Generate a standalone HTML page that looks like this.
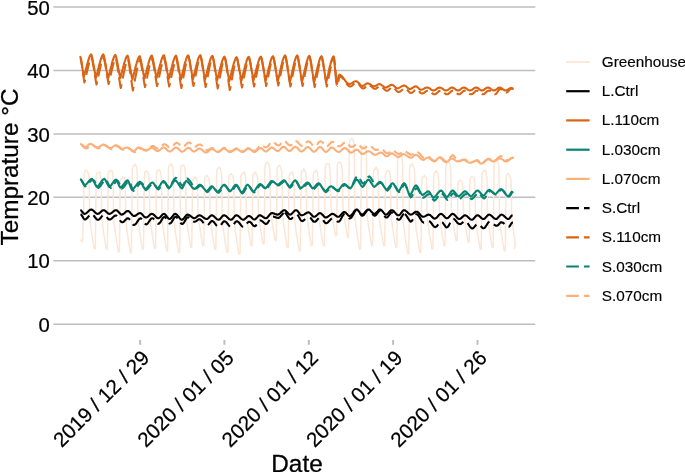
<!DOCTYPE html>
<html><head><meta charset="utf-8"><title>Temperature chart</title>
<style>html,body{margin:0;padding:0;background:#fff}body{width:685px;height:472px;overflow:hidden}</style></head>
<body>
<svg width="685" height="472" viewBox="0 0 685 472" style="display:block">
<rect width="685" height="472" fill="#fff"/>
<g stroke="#BEBEBE" stroke-width="1.5" fill="none">
<line x1="53.4" x2="535.3" y1="324.15" y2="324.15"/>
<line x1="53.4" x2="535.3" y1="260.73" y2="260.73"/>
<line x1="53.4" x2="535.3" y1="197.31" y2="197.31"/>
<line x1="53.4" x2="535.3" y1="133.89" y2="133.89"/>
<line x1="53.4" x2="535.3" y1="70.47" y2="70.47"/>
<line x1="53.4" x2="535.3" y1="7.05" y2="7.05"/>
</g>
<g stroke="#BEBEBE" stroke-width="2">
<line x1="140.1" x2="140.1" y1="340.0" y2="344.8"/>
<line x1="224.4" x2="224.4" y1="340.0" y2="344.8"/>
<line x1="308.8" x2="308.8" y1="340.0" y2="344.8"/>
<line x1="393.1" x2="393.1" y1="340.0" y2="344.8"/>
<line x1="477.5" x2="477.5" y1="340.0" y2="344.8"/>
</g>
<g fill="none" stroke-linejoin="round" stroke-linecap="butt">
<path d="M80.2,239.5 L81.2,240.8 L82.6,242.3 L83.7,210.3 L84.0,174.8 L84.7,171.2 L85.7,170.5 L86.7,170.3 L87.7,172.3 L88.5,172.5 L89.0,179.3 L89.6,217.0 L90.8,227.0 L92.1,236.0 L93.3,243.5 L94.4,249.0 L95.3,248.5 L95.8,212.0 L96.1,177.1 L96.8,173.3 L97.8,172.8 L98.8,172.0 L99.8,172.2 L100.6,175.5 L101.1,181.0 L101.7,217.5 L102.9,227.5 L104.2,236.5 L105.4,244.0 L106.4,249.5 L107.3,249.0 L107.8,210.3 L108.1,173.9 L108.8,171.7 L109.8,171.3 L110.8,170.3 L111.8,170.5 L112.6,172.6 L113.1,179.3 L113.7,220.0 L114.9,230.0 L116.2,239.0 L117.4,246.5 L118.5,252.0 L119.4,251.5 L119.9,217.0 L120.2,181.8 L120.9,179.1 L121.9,179.2 L122.9,177.0 L123.9,177.4 L124.7,179.7 L125.2,186.0 L125.8,221.0 L127.0,231.0 L128.3,240.0 L129.5,247.5 L130.5,253.0 L131.4,252.5 L131.9,203.8 L132.2,169.2 L132.9,166.1 L133.9,166.3 L134.9,163.8 L135.9,165.5 L136.7,167.0 L137.2,172.8 L137.8,217.2 L139.0,227.2 L140.3,236.2 L141.5,243.7 L142.6,249.2 L143.5,248.7 L144.0,211.2 L144.3,177.6 L145.0,171.9 L146.0,171.0 L147.0,171.2 L148.0,173.8 L148.8,174.1 L149.3,180.2 L149.9,216.3 L151.1,226.3 L152.4,235.3 L153.6,242.8 L154.7,248.3 L155.6,247.8 L156.1,209.8 L156.4,173.7 L157.1,170.6 L158.1,169.9 L159.1,169.8 L160.1,170.7 L160.9,174.2 L161.4,178.8 L162.0,219.0 L163.2,229.0 L164.5,238.0 L165.7,245.5 L166.7,251.0 L167.6,250.5 L168.1,203.6 L168.4,167.6 L169.1,165.2 L170.1,165.0 L171.1,163.6 L172.1,165.5 L172.9,166.7 L173.4,172.6 L174.0,220.6 L175.2,230.6 L176.5,239.6 L177.7,247.1 L178.8,252.6 L179.7,252.1 L180.2,205.3 L180.5,170.4 L181.2,166.0 L182.2,165.2 L183.2,165.3 L184.2,165.5 L185.0,167.9 L185.5,174.3 L186.1,215.5 L187.3,225.5 L188.6,234.5 L189.8,242.0 L190.8,247.5 L191.7,247.0 L192.2,217.0 L192.5,182.5 L193.2,178.4 L194.2,178.0 L195.2,177.0 L196.2,177.9 L197.0,180.8 L197.5,186.0 L198.1,213.9 L199.3,223.9 L200.6,232.9 L201.8,240.4 L202.9,245.9 L203.8,245.4 L204.3,215.3 L204.6,180.2 L205.3,176.4 L206.3,175.9 L207.3,175.3 L208.3,177.7 L209.1,179.4 L209.6,184.3 L210.2,217.2 L211.4,227.2 L212.7,236.2 L213.9,243.7 L215.0,249.2 L215.9,248.7 L216.4,207.0 L216.7,171.2 L217.4,168.6 L218.4,168.4 L219.4,167.0 L220.4,168.6 L221.2,171.6 L221.7,176.0 L222.3,220.6 L223.5,230.6 L224.8,239.6 L226.0,247.1 L227.0,252.6 L227.9,252.1 L228.4,213.7 L228.7,179.4 L229.4,174.8 L230.4,174.3 L231.4,173.7 L232.4,176.6 L233.2,176.1 L233.7,182.7 L234.3,222.2 L235.5,232.2 L236.8,241.2 L238.0,248.7 L239.1,254.2 L240.0,253.7 L240.5,212.0 L240.8,176.8 L241.5,174.0 L242.5,174.0 L243.5,172.0 L244.5,172.5 L245.3,175.5 L245.8,181.0 L246.4,213.9 L247.6,223.9 L248.9,232.9 L250.1,240.4 L251.1,245.9 L252.0,245.4 L252.5,212.0 L252.8,175.6 L253.5,173.8 L254.5,173.7 L255.5,172.0 L256.5,174.3 L257.3,175.7 L257.8,181.0 L258.4,212.0 L259.6,222.0 L260.9,231.0 L262.1,238.5 L263.2,244.0 L264.1,243.5 L264.6,202.0 L264.9,168.1 L265.6,163.2 L266.6,162.6 L267.6,162.0 L268.6,164.1 L269.4,165.8 L269.9,171.0 L270.5,208.8 L271.7,218.8 L273.0,227.8 L274.2,235.3 L275.3,240.8 L276.2,240.3 L276.7,205.3 L277.0,170.5 L277.7,166.7 L278.7,166.4 L279.7,165.3 L280.7,167.8 L281.5,170.1 L282.0,174.3 L282.6,215.5 L283.8,225.5 L285.1,234.5 L286.3,242.0 L287.3,247.5 L288.2,247.0 L288.7,212.0 L289.0,176.9 L289.7,173.8 L290.7,173.7 L291.7,172.0 L292.7,172.2 L293.5,176.1 L294.0,181.0 L294.6,219.0 L295.8,229.0 L297.1,238.0 L298.3,245.5 L299.4,251.0 L300.3,250.5 L300.8,208.6 L301.1,174.0 L301.8,171.0 L302.8,171.3 L303.8,168.6 L304.8,171.1 L305.6,171.5 L306.1,177.6 L306.7,213.9 L307.9,223.9 L309.2,232.9 L310.4,240.4 L311.4,245.9 L312.3,245.4 L312.8,210.3 L313.1,175.0 L313.8,172.1 L314.8,172.0 L315.8,170.3 L316.8,170.4 L317.6,173.7 L318.1,179.3 L318.7,213.9 L319.9,223.9 L321.2,232.9 L322.4,240.4 L323.5,245.9 L324.4,245.4 L324.9,203.6 L325.2,167.6 L325.9,164.4 L326.9,163.7 L327.9,163.6 L328.9,163.8 L329.7,167.9 L330.2,172.6 L330.8,204.0 L332.0,214.0 L333.3,223.0 L334.5,230.5 L335.6,236.0 L336.5,235.5 L337.0,202.0 L337.3,165.9 L338.0,163.0 L339.0,162.4 L340.0,162.0 L341.0,163.2 L341.8,166.6 L342.3,171.0 L342.9,205.5 L344.1,215.5 L345.4,224.5 L346.6,232.0 L347.6,237.5 L348.5,237.0 L349.0,178.4 L349.3,142.1 L350.0,139.8 L351.0,139.4 L352.0,138.4 L353.0,140.0 L353.8,143.1 L354.3,147.4 L354.9,217.0 L356.1,227.0 L357.4,236.0 L358.6,243.5 L359.7,249.0 L360.6,248.5 L361.1,185.0 L361.4,151.0 L362.1,147.2 L363.1,147.3 L364.1,145.0 L365.1,145.8 L365.9,148.2 L366.4,154.0 L367.0,213.9 L368.2,223.9 L369.5,232.9 L370.7,240.4 L371.7,245.9 L372.6,245.4 L373.1,207.0 L373.4,171.6 L374.1,169.2 L375.1,169.4 L376.1,167.0 L377.1,169.9 L377.9,169.5 L378.4,176.0 L379.0,213.9 L380.2,223.9 L381.5,232.9 L382.7,240.4 L383.8,245.9 L384.7,245.4 L385.2,210.3 L385.5,174.3 L386.2,171.3 L387.2,170.7 L388.2,170.3 L389.2,171.0 L390.0,173.8 L390.5,179.3 L391.1,215.5 L392.3,225.5 L393.6,234.5 L394.8,242.0 L395.9,247.5 L396.8,247.0 L397.3,195.2 L397.6,160.5 L398.3,156.3 L399.3,155.7 L400.3,155.2 L401.3,155.2 L402.1,158.5 L402.6,164.2 L403.2,222.2 L404.4,232.2 L405.7,241.2 L406.9,248.7 L407.9,254.2 L408.8,253.7 L409.3,203.6 L409.6,168.2 L410.3,165.2 L411.3,165.0 L412.3,163.6 L413.3,166.5 L414.1,167.7 L414.6,172.6 L415.2,220.6 L416.4,230.6 L417.7,239.6 L418.9,247.1 L420.0,252.6 L420.9,252.1 L421.4,215.3 L421.7,180.3 L422.4,177.0 L423.4,176.9 L424.4,175.3 L425.4,177.3 L426.2,177.5 L426.7,184.3 L427.3,217.2 L428.5,227.2 L429.8,236.2 L431.0,243.7 L432.0,249.2 L432.9,248.7 L433.4,210.3 L433.7,176.5 L434.4,172.3 L435.4,172.3 L436.4,170.3 L437.4,172.9 L438.2,174.7 L438.7,179.3 L439.3,213.9 L440.5,223.9 L441.8,232.9 L443.0,240.4 L444.1,245.9 L445.0,245.4 L445.5,202.0 L445.8,166.7 L446.5,163.3 L447.5,162.9 L448.5,162.0 L449.5,162.3 L450.3,165.9 L450.8,171.0 L451.4,208.8 L452.6,218.8 L453.9,227.8 L455.1,235.3 L456.2,240.8 L457.1,240.3 L457.6,220.4 L457.9,184.1 L458.6,181.1 L459.6,180.3 L460.6,180.4 L461.6,181.0 L462.4,182.9 L462.9,189.4 L463.5,210.5 L464.7,220.5 L466.0,229.5 L467.2,237.0 L468.2,242.5 L469.1,242.0 L469.6,217.0 L469.9,181.5 L470.6,177.7 L471.6,176.9 L472.6,177.0 L473.6,177.0 L474.4,179.5 L474.9,186.0 L475.5,217.2 L476.7,227.2 L478.0,236.2 L479.2,243.7 L480.3,249.2 L481.2,248.7 L481.7,210.3 L482.0,174.1 L482.7,171.6 L483.7,171.1 L484.7,170.3 L485.7,170.4 L486.5,174.9 L487.0,179.3 L487.6,215.5 L488.8,225.5 L490.1,234.5 L491.3,242.0 L492.3,247.5 L493.2,247.0 L493.7,200.2 L494.0,165.5 L494.7,161.1 L495.7,160.3 L496.7,160.2 L497.7,161.0 L498.5,163.2 L499.0,169.2 L499.6,219.0 L500.8,229.0 L502.1,238.0 L503.3,245.5 L504.4,251.0 L505.3,250.5 L505.8,213.7 L506.1,178.3 L506.8,174.5 L507.8,173.8 L508.8,173.7 L509.8,176.2 L510.6,178.7 L511.1,182.7 L511.7,217.2 L512.9,227.2 L514.2,236.2 L515.4,243.7 L514.3,249.2" stroke="#FCE6D6" stroke-width="1.5"/>
<path d="M80.2,210.2 L80.8,210.3 L81.3,210.7 L81.8,211.3 L82.4,212.0 L83.0,212.8 L83.5,213.4 L84.0,213.8 L84.6,213.9 L85.1,213.8 L85.6,213.6 L86.1,213.3 L86.6,212.9 L87.1,212.5 L87.6,212.0 L88.2,211.4 L88.7,210.9 L89.2,210.5 L89.7,210.1 L90.2,209.8 L90.7,209.6 L91.2,209.5 L91.7,209.6 L92.2,209.8 L92.7,210.1 L93.2,210.5 L93.7,210.9 L94.2,211.4 L94.7,212.0 L95.2,212.5 L95.7,212.9 L96.2,213.3 L96.7,213.6 L97.2,213.8 L97.7,213.9 L98.2,213.8 L98.8,213.6 L99.3,213.3 L99.8,212.8 L100.4,212.3 L100.9,211.8 L101.5,211.3 L102.0,210.8 L102.5,210.5 L103.1,210.3 L103.6,210.2 L104.1,210.3 L104.7,210.5 L105.2,210.8 L105.7,211.3 L106.2,211.8 L106.8,212.3 L107.3,212.8 L107.8,213.3 L108.3,213.6 L108.9,213.8 L109.4,213.9 L109.9,213.8 L110.4,213.7 L110.9,213.4 L111.4,213.1 L111.9,212.7 L112.4,212.3 L113.0,211.8 L113.5,211.4 L114.0,211.0 L114.5,210.7 L115.0,210.4 L115.5,210.3 L116.0,210.2 L116.5,210.3 L117.1,210.5 L117.6,211.0 L118.1,211.5 L118.6,212.1 L119.2,212.7 L119.7,213.3 L120.2,213.8 L120.7,214.3 L121.3,214.5 L121.8,214.6 L122.3,214.5 L122.9,214.3 L123.4,214.0 L123.9,213.5 L124.5,213.1 L125.0,212.5 L125.6,212.1 L126.1,211.6 L126.6,211.3 L127.2,211.1 L127.7,211.0 L128.2,211.1 L128.8,211.3 L129.3,211.7 L129.9,212.2 L130.4,212.9 L130.9,213.5 L131.5,214.1 L132.0,214.8 L132.6,215.3 L133.1,215.7 L133.7,215.9 L134.2,216.0 L134.7,215.9 L135.3,215.8 L135.8,215.5 L136.3,215.2 L136.8,214.8 L137.4,214.3 L137.9,213.9 L138.4,213.6 L138.9,213.3 L139.5,213.2 L140.0,213.1 L140.5,213.2 L141.0,213.4 L141.5,213.7 L142.0,214.2 L142.5,214.7 L143.0,215.3 L143.5,215.9 L144.0,216.4 L144.5,216.9 L145.0,217.2 L145.5,217.4 L146.0,217.5 L146.5,217.4 L147.1,217.2 L147.6,216.9 L148.1,216.4 L148.6,216.0 L149.2,215.4 L149.7,215.0 L150.2,214.5 L150.7,214.2 L151.3,214.0 L151.8,213.9 L152.3,214.0 L152.8,214.1 L153.3,214.4 L153.8,214.8 L154.3,215.3 L154.8,215.8 L155.3,216.3 L155.8,216.8 L156.3,217.3 L156.8,217.7 L157.3,218.0 L157.8,218.1 L158.3,218.2 L158.8,218.1 L159.3,217.9 L159.9,217.5 L160.4,216.9 L160.9,216.4 L161.4,215.7 L161.9,215.2 L162.4,214.6 L163.0,214.2 L163.5,214.0 L164.0,213.9 L164.5,214.0 L165.0,214.3 L165.5,214.8 L166.0,215.4 L166.5,216.1 L167.0,216.8 L167.5,217.5 L168.0,218.1 L168.5,218.6 L169.0,218.9 L169.5,219.0 L170.0,218.9 L170.6,218.6 L171.1,218.1 L171.6,217.5 L172.1,216.8 L172.7,216.1 L173.2,215.4 L173.7,214.8 L174.2,214.3 L174.8,214.0 L175.3,213.9 L175.8,214.0 L176.3,214.2 L176.8,214.6 L177.3,215.2 L177.8,215.8 L178.3,216.5 L178.9,217.1 L179.4,217.8 L179.9,218.4 L180.4,219.0 L180.9,219.4 L181.4,219.6 L181.9,219.7 L182.4,219.6 L183.0,219.3 L183.5,218.8 L184.0,218.2 L184.5,217.5 L185.1,216.8 L185.6,216.1 L186.1,215.5 L186.6,215.0 L187.2,214.7 L187.7,214.6 L188.2,214.7 L188.7,214.8 L189.2,215.1 L189.7,215.4 L190.2,215.8 L190.7,216.2 L191.3,216.6 L191.8,217.0 L192.3,217.4 L192.8,217.7 L193.3,218.0 L193.8,218.1 L194.3,218.2 L194.8,218.1 L195.3,217.9 L195.8,217.6 L196.3,217.2 L196.9,216.8 L197.4,216.3 L197.9,215.9 L198.4,215.6 L198.9,215.4 L199.4,215.3 L199.9,215.3 L200.4,215.5 L201.0,215.7 L201.5,216.0 L202.0,216.3 L202.5,216.7 L203.1,217.2 L203.6,217.6 L204.1,218.0 L204.6,218.3 L205.1,218.6 L205.7,218.8 L206.2,219.0 L206.7,219.0 L207.2,218.9 L207.7,218.6 L208.2,218.2 L208.7,217.7 L209.2,217.2 L209.8,216.6 L210.3,216.1 L210.8,215.7 L211.3,215.4 L211.8,215.3 L212.3,215.4 L212.8,215.6 L213.3,215.9 L213.8,216.3 L214.3,216.7 L214.8,217.2 L215.4,217.8 L215.9,218.3 L216.4,218.7 L216.9,219.1 L217.4,219.4 L217.9,219.6 L218.4,219.7 L218.9,219.6 L219.5,219.4 L220.0,218.9 L220.5,218.4 L221.0,217.8 L221.6,217.2 L222.1,216.6 L222.6,216.1 L223.1,215.6 L223.7,215.4 L224.2,215.3 L224.7,215.4 L225.2,215.6 L225.7,215.9 L226.2,216.3 L226.7,216.7 L227.2,217.2 L227.8,217.8 L228.3,218.3 L228.8,218.7 L229.3,219.1 L229.8,219.4 L230.3,219.6 L230.8,219.7 L231.3,219.6 L231.9,219.4 L232.4,218.9 L232.9,218.4 L233.4,217.8 L234.0,217.2 L234.5,216.6 L235.0,216.1 L235.5,215.6 L236.1,215.4 L236.6,215.3 L237.1,215.4 L237.6,215.6 L238.1,215.9 L238.6,216.3 L239.1,216.7 L239.6,217.2 L240.2,217.8 L240.7,218.3 L241.2,218.7 L241.7,219.1 L242.2,219.4 L242.7,219.6 L243.2,219.7 L243.7,219.6 L244.3,219.4 L244.8,219.1 L245.3,218.6 L245.8,218.1 L246.4,217.6 L246.9,217.1 L247.4,216.6 L247.9,216.3 L248.5,216.1 L249.0,216.0 L249.5,216.1 L250.0,216.3 L250.5,216.6 L251.0,217.0 L251.5,217.5 L252.0,218.0 L252.5,218.5 L253.0,218.9 L253.5,219.2 L254.0,219.4 L254.5,219.5 L255.0,219.4 L255.5,219.1 L256.0,218.6 L256.5,218.0 L257.1,217.4 L257.6,216.8 L258.1,216.2 L258.6,215.7 L259.1,215.4 L259.6,215.3 L260.1,215.3 L260.7,215.5 L261.2,215.7 L261.7,216.0 L262.3,216.4 L262.8,216.8 L263.3,217.1 L263.9,217.5 L264.4,217.8 L264.9,218.0 L265.5,218.2 L266.0,218.2 L266.5,218.1 L267.1,217.8 L267.6,217.3 L268.1,216.7 L268.7,216.0 L269.2,215.3 L269.8,214.6 L270.3,214.0 L270.8,213.5 L271.4,213.2 L271.9,213.1 L272.4,213.1 L273.0,213.2 L273.5,213.4 L274.0,213.5 L274.5,213.7 L275.1,214.0 L275.6,214.2 L276.1,214.3 L276.6,214.5 L277.2,214.6 L277.7,214.6 L278.2,214.5 L278.7,214.3 L279.2,214.0 L279.7,213.6 L280.2,213.2 L280.7,212.7 L281.3,212.1 L281.8,211.6 L282.3,211.2 L282.8,210.8 L283.3,210.5 L283.8,210.3 L284.3,210.2 L284.8,210.3 L285.4,210.5 L285.9,211.0 L286.4,211.5 L286.9,212.1 L287.5,212.7 L288.0,213.3 L288.5,213.8 L289.0,214.3 L289.6,214.5 L290.1,214.6 L290.6,214.5 L291.2,214.3 L291.7,213.8 L292.2,213.3 L292.8,212.7 L293.3,212.1 L293.9,211.5 L294.4,211.0 L294.9,210.5 L295.5,210.3 L296.0,210.2 L296.5,210.3 L297.1,210.6 L297.6,211.1 L298.1,211.7 L298.6,212.4 L299.2,213.1 L299.7,213.8 L300.2,214.4 L300.7,214.9 L301.3,215.2 L301.8,215.3 L302.3,215.3 L302.8,215.1 L303.3,214.9 L303.8,214.7 L304.3,214.4 L304.8,214.0 L305.4,213.7 L305.9,213.3 L306.4,213.0 L306.9,212.8 L307.4,212.6 L307.9,212.4 L308.4,212.4 L308.9,212.5 L309.5,212.7 L310.0,213.2 L310.5,213.7 L311.0,214.3 L311.6,214.9 L312.1,215.5 L312.6,216.0 L313.1,216.5 L313.7,216.7 L314.2,216.8 L314.7,216.7 L315.3,216.5 L315.8,216.2 L316.3,215.7 L316.8,215.2 L317.4,214.7 L317.9,214.2 L318.4,213.7 L318.9,213.4 L319.5,213.2 L320.0,213.1 L320.5,213.2 L321.1,213.4 L321.6,213.9 L322.1,214.4 L322.7,215.0 L323.2,215.6 L323.8,216.2 L324.3,216.7 L324.8,217.2 L325.4,217.4 L325.9,217.5 L326.4,217.4 L326.9,217.3 L327.4,217.0 L327.9,216.7 L328.4,216.3 L328.9,215.9 L329.5,215.5 L330.0,215.1 L330.5,214.7 L331.0,214.4 L331.5,214.1 L332.0,214.0 L332.5,213.9 L333.0,214.0 L333.6,214.1 L334.1,214.4 L334.6,214.7 L335.1,215.1 L335.7,215.6 L336.2,216.0 L336.7,216.3 L337.2,216.6 L337.8,216.7 L338.3,216.8 L338.8,216.7 L339.3,216.5 L339.8,216.1 L340.3,215.6 L340.8,215.0 L341.3,214.4 L341.8,213.8 L342.3,213.2 L342.8,212.7 L343.3,212.3 L343.8,212.1 L344.3,212.0 L344.8,212.1 L345.4,212.4 L345.9,212.8 L346.4,213.4 L347.0,214.0 L347.5,214.6 L348.0,215.2 L348.5,215.6 L349.1,215.9 L349.6,216.0 L350.1,215.9 L350.6,215.7 L351.1,215.3 L351.7,214.8 L352.2,214.2 L352.7,213.5 L353.2,212.8 L353.7,212.0 L354.2,211.3 L354.7,210.7 L355.3,210.2 L355.8,209.8 L356.3,209.6 L356.8,209.5 L357.3,209.6 L357.8,210.0 L358.3,210.6 L358.8,211.3 L359.4,212.0 L359.9,212.8 L360.4,213.5 L360.9,214.1 L361.4,214.5 L361.9,214.6 L362.4,214.5 L362.9,214.3 L363.4,214.0 L363.9,213.5 L364.4,213.0 L364.9,212.4 L365.5,211.7 L366.0,211.1 L366.5,210.6 L367.0,210.1 L367.5,209.8 L368.0,209.6 L368.5,209.5 L369.0,209.6 L369.6,209.8 L370.1,210.3 L370.6,210.8 L371.1,211.4 L371.7,212.0 L372.2,212.6 L372.7,213.1 L373.2,213.6 L373.8,213.8 L374.3,213.9 L374.8,213.8 L375.4,213.6 L375.9,213.1 L376.4,212.6 L376.9,212.0 L377.5,211.4 L378.0,210.8 L378.5,210.3 L379.0,209.8 L379.6,209.6 L380.1,209.5 L380.6,209.6 L381.2,209.9 L381.7,210.4 L382.2,211.0 L382.8,211.7 L383.3,212.4 L383.9,213.1 L384.4,213.7 L384.9,214.2 L385.5,214.5 L386.0,214.6 L386.5,214.5 L387.1,214.3 L387.6,213.8 L388.1,213.3 L388.6,212.7 L389.2,212.1 L389.7,211.5 L390.2,211.0 L390.7,210.5 L391.3,210.3 L391.8,210.2 L392.3,210.3 L392.8,210.5 L393.3,210.8 L393.8,211.3 L394.3,211.8 L394.8,212.4 L395.4,213.1 L395.9,213.7 L396.4,214.2 L396.9,214.7 L397.4,215.0 L397.9,215.2 L398.4,215.3 L398.9,215.2 L399.5,214.9 L400.0,214.4 L400.5,213.8 L401.0,213.1 L401.6,212.4 L402.1,211.7 L402.6,211.1 L403.1,210.6 L403.7,210.3 L404.2,210.2 L404.7,210.3 L405.2,210.5 L405.7,210.8 L406.2,211.2 L406.7,211.6 L407.2,212.1 L407.8,212.7 L408.3,213.2 L408.8,213.6 L409.3,214.0 L409.8,214.3 L410.3,214.5 L410.8,214.6 L411.3,214.5 L411.9,214.4 L412.4,214.1 L412.9,213.8 L413.4,213.4 L414.0,212.9 L414.5,212.5 L415.0,212.2 L415.5,211.9 L416.1,211.8 L416.6,211.7 L417.1,211.8 L417.6,212.0 L418.1,212.3 L418.6,212.8 L419.1,213.3 L419.6,213.9 L420.2,214.6 L420.7,215.2 L421.2,215.7 L421.7,216.2 L422.2,216.5 L422.7,216.7 L423.2,216.8 L423.7,216.8 L424.2,216.6 L424.7,216.4 L425.2,216.2 L425.7,215.9 L426.3,215.5 L426.8,215.2 L427.3,215.0 L427.8,214.8 L428.3,214.6 L428.8,214.6 L429.3,214.7 L429.9,214.9 L430.4,215.3 L430.9,215.8 L431.5,216.3 L432.0,216.9 L432.6,217.4 L433.1,217.9 L433.6,218.3 L434.2,218.5 L434.7,218.6 L435.2,218.5 L435.8,218.3 L436.3,217.9 L436.8,217.4 L437.3,216.9 L437.9,216.2 L438.4,215.6 L438.9,215.1 L439.4,214.6 L439.9,214.2 L440.5,214.0 L441.0,213.9 L441.5,214.0 L442.1,214.2 L442.6,214.6 L443.1,215.2 L443.7,215.7 L444.2,216.4 L444.8,216.9 L445.3,217.5 L445.8,217.9 L446.4,218.1 L446.9,218.2 L447.4,218.1 L448.0,217.9 L448.5,217.5 L449.0,216.9 L449.5,216.4 L450.1,215.7 L450.6,215.2 L451.1,214.6 L451.6,214.2 L452.2,214.0 L452.7,213.9 L453.2,214.0 L453.7,214.2 L454.2,214.5 L454.7,215.0 L455.2,215.5 L455.7,216.1 L456.3,216.8 L456.8,217.4 L457.3,217.9 L457.8,218.4 L458.3,218.7 L458.8,218.9 L459.3,219.0 L459.8,218.9 L460.4,218.7 L460.9,218.4 L461.4,217.9 L461.9,217.4 L462.5,216.9 L463.0,216.4 L463.5,215.9 L464.0,215.6 L464.6,215.4 L465.1,215.3 L465.6,215.4 L466.1,215.6 L466.6,215.9 L467.1,216.3 L467.6,216.7 L468.1,217.2 L468.7,217.8 L469.2,218.3 L469.7,218.7 L470.2,219.1 L470.7,219.4 L471.2,219.6 L471.7,219.7 L472.2,219.6 L472.8,219.4 L473.3,218.9 L473.8,218.4 L474.4,217.8 L474.9,217.2 L475.5,216.6 L476.0,216.1 L476.5,215.6 L477.1,215.4 L477.6,215.3 L478.1,215.4 L478.7,215.6 L479.2,215.9 L479.7,216.4 L480.2,216.9 L480.8,217.4 L481.3,217.9 L481.8,218.4 L482.3,218.7 L482.9,218.9 L483.4,219.0 L483.9,218.9 L484.5,218.7 L485.0,218.2 L485.5,217.7 L486.0,217.1 L486.6,216.5 L487.1,215.9 L487.6,215.4 L488.1,214.9 L488.7,214.7 L489.2,214.6 L489.7,214.7 L490.2,214.9 L490.7,215.2 L491.2,215.6 L491.7,216.0 L492.2,216.5 L492.8,217.1 L493.3,217.6 L493.8,218.0 L494.3,218.4 L494.8,218.7 L495.3,218.9 L495.8,219.0 L496.3,218.9 L496.9,218.7 L497.4,218.2 L497.9,217.7 L498.4,217.1 L499.0,216.5 L499.5,215.9 L500.0,215.4 L500.5,214.9 L501.1,214.7 L501.6,214.6 L502.1,214.7 L502.6,214.9 L503.1,215.2 L503.6,215.6 L504.1,216.0 L504.6,216.5 L505.2,217.1 L505.7,217.6 L506.2,218.0 L506.7,218.4 L507.2,218.7 L507.7,218.9 L508.2,219.0 L508.8,218.9 L509.3,218.5 L509.9,217.9 L510.4,217.2 L510.9,216.4 L511.5,215.8 L512.1,215.4 L512.6,215.3" stroke="#000000" stroke-width="2.1"/>
<path d="M80.2,56.0 L80.7,57.9 L81.3,60.6 L81.8,63.8 L82.3,67.2 L82.8,70.6 L83.4,73.7 L83.9,76.5 L84.4,74.7 L84.9,72.8 L85.5,70.8 L86.0,68.9 L86.5,66.9 L87.0,64.9 L87.6,63.0 L88.1,61.1 L88.6,59.4 L89.1,57.9 L89.6,56.6 L90.2,55.5 L90.7,54.7 L91.2,54.3 L91.7,55.9 L92.3,58.1 L92.8,60.7 L93.3,63.6 L93.9,66.7 L94.4,69.7 L94.9,72.6 L95.5,75.3 L96.0,77.7 L96.5,75.8 L97.1,73.8 L97.6,71.7 L98.1,69.6 L98.6,67.5 L99.1,65.5 L99.7,63.4 L100.2,61.5 L100.7,59.7 L101.2,58.1 L101.8,56.7 L102.3,55.5 L102.8,54.7 L103.3,54.3 L103.9,55.9 L104.4,58.2 L104.9,60.9 L105.5,63.9 L106.0,67.1 L106.5,70.2 L107.1,73.2 L107.6,76.0 L108.1,78.5 L108.7,76.6 L109.2,74.5 L109.7,72.5 L110.2,70.3 L110.7,68.2 L111.3,66.1 L111.8,64.0 L112.3,62.1 L112.8,60.3 L113.4,58.6 L113.9,57.2 L114.4,56.1 L114.9,55.2 L115.4,54.8 L116.0,56.4 L116.5,58.6 L117.0,61.2 L117.6,64.0 L118.1,67.1 L118.7,70.1 L119.2,73.0 L119.7,75.6 L120.3,78.0 L120.8,76.2 L121.3,74.3 L121.8,72.3 L122.3,70.3 L122.9,68.3 L123.4,66.3 L123.9,64.3 L124.4,62.5 L125.0,60.8 L125.5,59.2 L126.0,57.9 L126.5,56.8 L127.0,56.0 L127.6,55.6 L128.1,57.2 L128.6,59.5 L129.2,62.2 L129.7,65.1 L130.2,68.2 L130.8,71.3 L131.3,74.3 L131.8,77.0 L132.4,79.5 L132.9,77.6 L133.4,75.6 L133.9,73.6 L134.5,71.5 L135.0,69.4 L135.5,67.3 L136.0,65.3 L136.6,63.4 L137.1,61.6 L137.6,60.0 L138.1,58.6 L138.6,57.4 L139.2,56.6 L139.7,56.2 L140.2,57.7 L140.8,59.8 L141.3,62.3 L141.8,65.1 L142.4,68.0 L142.9,70.9 L143.4,73.6 L144.0,76.2 L144.5,78.5 L145.0,76.6 L145.5,74.7 L146.1,72.6 L146.6,70.6 L147.1,68.5 L147.6,66.5 L148.2,64.5 L148.7,62.6 L149.2,60.8 L149.7,59.2 L150.2,57.8 L150.8,56.7 L151.3,55.9 L151.8,55.5 L152.3,57.0 L152.9,59.2 L153.4,61.7 L153.9,64.5 L154.5,67.4 L155.0,70.3 L155.5,73.1 L156.1,75.7 L156.6,78.0 L157.1,76.1 L157.7,74.2 L158.2,72.2 L158.7,70.1 L159.2,68.1 L159.7,66.1 L160.3,64.1 L160.8,62.2 L161.3,60.5 L161.8,58.9 L162.4,57.5 L162.9,56.4 L163.4,55.6 L163.9,55.2 L164.5,56.8 L165.0,59.1 L165.5,61.7 L166.1,64.7 L166.6,67.8 L167.1,70.9 L167.7,73.8 L168.2,76.6 L168.7,79.0 L169.3,77.1 L169.8,75.1 L170.3,73.0 L170.8,70.9 L171.3,68.8 L171.9,66.8 L172.4,64.7 L172.9,62.8 L173.4,61.0 L174.0,59.4 L174.5,58.0 L175.0,56.8 L175.5,56.0 L176.0,55.6 L176.6,57.2 L177.1,59.5 L177.6,62.2 L178.2,65.1 L178.7,68.2 L179.3,71.3 L179.8,74.3 L180.3,77.0 L180.9,79.5 L181.4,77.5 L181.9,75.5 L182.4,73.4 L182.9,71.2 L183.5,69.0 L184.0,66.9 L184.5,64.8 L185.0,62.8 L185.6,61.0 L186.1,59.3 L186.6,57.9 L187.1,56.7 L187.6,55.8 L188.2,55.4 L188.7,57.0 L189.2,59.2 L189.8,61.9 L190.3,64.8 L190.8,67.9 L191.4,70.9 L191.9,73.9 L192.4,76.6 L193.0,79.0 L193.5,77.0 L194.0,75.0 L194.5,72.9 L195.1,70.8 L195.6,68.7 L196.1,66.5 L196.6,64.5 L197.2,62.5 L197.7,60.7 L198.2,59.0 L198.7,57.6 L199.2,56.5 L199.8,55.6 L200.3,55.2 L200.8,56.8 L201.4,59.1 L201.9,61.9 L202.4,64.9 L203.0,68.0 L203.5,71.2 L204.0,74.2 L204.6,77.0 L205.1,79.5 L205.6,77.6 L206.1,75.5 L206.7,73.5 L207.2,71.3 L207.7,69.2 L208.2,67.1 L208.7,65.0 L209.3,63.1 L209.8,61.3 L210.3,59.6 L210.8,58.2 L211.4,57.1 L211.9,56.2 L212.4,55.8 L212.9,57.4 L213.5,59.7 L214.0,62.4 L214.5,65.4 L215.1,68.6 L215.6,71.7 L216.1,74.7 L216.7,77.5 L217.2,80.0 L217.7,78.1 L218.3,76.1 L218.8,74.0 L219.3,71.9 L219.8,69.8 L220.3,67.8 L220.9,65.7 L221.4,63.8 L221.9,62.0 L222.4,60.4 L223.0,59.0 L223.5,57.8 L224.0,57.0 L224.5,56.6 L225.1,58.2 L225.6,60.6 L226.1,63.3 L226.7,66.3 L227.2,69.5 L227.7,72.7 L228.3,75.7 L228.8,78.5 L229.3,81.0 L229.9,79.0 L230.4,77.0 L230.9,74.9 L231.4,72.8 L231.9,70.7 L232.5,68.5 L233.0,66.5 L233.5,64.5 L234.0,62.7 L234.6,61.0 L235.1,59.6 L235.6,58.5 L236.1,57.6 L236.6,57.2 L237.2,58.8 L237.7,61.0 L238.2,63.6 L238.8,66.5 L239.3,69.5 L239.9,72.5 L240.4,75.4 L240.9,78.1 L241.5,80.5 L242.0,78.6 L242.5,76.5 L243.0,74.5 L243.5,72.3 L244.1,70.2 L244.6,68.1 L245.1,66.0 L245.6,64.1 L246.2,62.3 L246.7,60.6 L247.2,59.2 L247.7,58.1 L248.2,57.2 L248.8,56.8 L249.3,58.4 L249.8,60.6 L250.4,63.2 L250.9,66.0 L251.4,69.1 L252.0,72.1 L252.5,75.0 L253.0,77.6 L253.6,80.0 L254.1,78.1 L254.6,76.1 L255.1,74.0 L255.7,71.9 L256.2,69.8 L256.7,67.8 L257.2,65.7 L257.8,63.8 L258.3,62.0 L258.8,60.4 L259.3,59.0 L259.8,57.8 L260.4,57.0 L260.9,56.6 L261.4,58.2 L262.0,60.5 L262.5,63.2 L263.0,66.1 L263.6,69.2 L264.1,72.3 L264.6,75.3 L265.2,78.0 L265.7,80.5 L266.2,78.5 L266.7,76.4 L267.3,74.3 L267.8,72.1 L268.3,69.9 L268.8,67.8 L269.4,65.7 L269.9,63.7 L270.4,61.8 L270.9,60.1 L271.4,58.7 L272.0,57.5 L272.5,56.6 L273.0,56.2 L273.5,57.9 L274.1,60.2 L274.6,63.0 L275.1,66.1 L275.7,69.3 L276.2,72.5 L276.7,75.6 L277.3,78.5 L277.8,81.0 L278.3,78.9 L278.9,76.7 L279.4,74.5 L279.9,72.2 L280.4,69.9 L280.9,67.6 L281.5,65.4 L282.0,63.3 L282.5,61.3 L283.0,59.5 L283.6,58.0 L284.1,56.8 L284.6,55.8 L285.1,55.4 L285.7,57.2 L286.2,59.7 L286.7,62.7 L287.3,66.0 L287.8,69.5 L288.3,72.9 L288.9,76.2 L289.4,79.3 L289.9,82.0 L290.5,79.8 L291.0,77.6 L291.5,75.2 L292.0,72.8 L292.5,70.5 L293.1,68.1 L293.6,65.8 L294.1,63.6 L294.6,61.5 L295.2,59.7 L295.7,58.1 L296.2,56.8 L296.7,55.9 L297.2,55.4 L297.8,57.2 L298.3,59.6 L298.8,62.6 L299.4,65.8 L299.9,69.2 L300.5,72.6 L301.0,75.8 L301.5,78.8 L302.1,81.5 L302.6,79.4 L303.1,77.2 L303.6,75.0 L304.1,72.7 L304.7,70.4 L305.2,68.1 L305.7,65.9 L306.2,63.8 L306.8,61.8 L307.3,60.0 L307.8,58.5 L308.3,57.3 L308.8,56.3 L309.4,55.9 L309.9,57.7 L310.4,60.1 L311.0,63.1 L311.5,66.3 L312.0,69.7 L312.6,73.1 L313.1,76.3 L313.6,79.3 L314.2,82.0 L314.7,79.9 L315.2,77.7 L315.7,75.4 L316.3,73.1 L316.8,70.8 L317.3,68.5 L317.8,66.3 L318.4,64.1 L318.9,62.2 L319.4,60.4 L319.9,58.8 L320.4,57.6 L321.0,56.7 L321.5,56.2 L322.0,57.9 L322.6,60.4 L323.1,63.3 L323.6,66.5 L324.2,69.8 L324.7,73.2 L325.2,76.4 L325.8,79.4 L326.3,82.0 L326.8,79.9 L327.3,77.7 L327.9,75.4 L328.4,73.2 L328.9,70.8 L329.4,68.6 L329.9,66.3 L330.5,64.2 L331.0,62.2 L331.5,60.5 L332.0,58.9 L332.6,57.7 L333.1,56.7 L333.6,56.3 L334.1,59.5 L334.6,64.0 L335.1,69.4 L335.6,74.9 L336.1,80.0 L336.6,84.5 L337.1,83.6 L337.6,81.1 L338.2,78.2 L338.7,75.7 L339.2,74.8 L339.7,74.9 L340.2,75.0 L340.7,75.3 L341.2,75.7 L341.8,76.1 L342.3,76.7 L342.8,77.3 L343.3,78.0 L343.8,78.7 L344.3,79.4 L344.8,80.1 L345.3,80.8 L345.8,81.5 L346.3,82.1 L346.8,82.7 L347.4,83.1 L347.9,83.5 L348.4,83.8 L348.9,83.9 L349.4,84.0 L349.9,84.0 L350.4,83.8 L350.9,83.6 L351.4,83.4 L351.9,83.1 L352.4,82.8 L352.9,82.4 L353.4,82.1 L353.9,81.8 L354.4,81.6 L354.9,81.4 L355.4,81.2 L355.9,81.2 L356.4,81.3 L356.9,81.5 L357.4,81.8 L357.9,82.2 L358.4,82.7 L358.9,83.3 L359.5,83.9 L360.0,84.5 L360.5,85.0 L361.0,85.4 L361.5,85.7 L362.0,85.9 L362.5,86.0 L363.0,85.9 L363.5,85.8 L364.0,85.5 L364.5,85.1 L365.1,84.7 L365.6,84.3 L366.1,83.9 L366.6,83.6 L367.1,83.5 L367.6,83.4 L368.1,83.4 L368.6,83.6 L369.1,83.8 L369.6,84.0 L370.1,84.3 L370.6,84.7 L371.2,85.0 L371.7,85.4 L372.2,85.7 L372.7,85.9 L373.2,86.1 L373.7,86.3 L374.2,86.3 L374.7,86.2 L375.2,86.1 L375.7,85.8 L376.2,85.5 L376.8,85.2 L377.3,84.9 L377.8,84.6 L378.3,84.3 L378.8,84.2 L379.3,84.1 L379.8,84.1 L380.3,84.3 L380.8,84.5 L381.3,84.8 L381.8,85.2 L382.3,85.6 L382.9,86.0 L383.4,86.4 L383.9,86.8 L384.4,87.1 L384.9,87.3 L385.4,87.5 L385.9,87.5 L386.4,87.4 L387.0,87.3 L387.5,87.0 L388.0,86.7 L388.5,86.3 L389.1,86.0 L389.6,85.6 L390.1,85.3 L390.6,85.0 L391.2,84.9 L391.7,84.8 L392.2,84.9 L392.8,85.1 L393.3,85.4 L393.8,85.8 L394.3,86.3 L394.9,86.8 L395.4,87.3 L395.9,87.7 L396.4,88.0 L397.0,88.2 L397.5,88.3 L398.0,88.3 L398.5,88.1 L399.0,87.9 L399.5,87.7 L400.0,87.4 L400.5,87.1 L401.1,86.7 L401.6,86.4 L402.1,86.1 L402.6,85.9 L403.1,85.7 L403.6,85.5 L404.1,85.5 L404.6,85.6 L405.2,85.8 L405.7,86.1 L406.2,86.5 L406.8,87.0 L407.3,87.5 L407.9,88.0 L408.4,88.4 L408.9,88.7 L409.5,88.9 L410.0,89.0 L410.5,88.9 L411.1,88.8 L411.6,88.5 L412.1,88.2 L412.6,87.8 L413.2,87.5 L413.7,87.1 L414.2,86.8 L414.7,86.5 L415.3,86.4 L415.8,86.3 L416.3,86.4 L416.8,86.6 L417.3,87.0 L417.8,87.5 L418.4,88.0 L418.9,88.5 L419.4,89.0 L419.9,89.4 L420.4,89.6 L420.9,89.7 L421.4,89.7 L422.0,89.6 L422.5,89.4 L423.0,89.2 L423.6,88.9 L424.1,88.6 L424.6,88.3 L425.2,88.0 L425.7,87.8 L426.2,87.6 L426.8,87.5 L427.3,87.5 L427.8,87.6 L428.3,87.7 L428.9,87.9 L429.4,88.2 L429.9,88.6 L430.4,89.0 L430.9,89.4 L431.4,89.8 L431.9,90.1 L432.5,90.3 L433.0,90.4 L433.5,90.5 L434.0,90.4 L434.5,90.3 L435.1,90.1 L435.6,89.8 L436.1,89.4 L436.6,89.0 L437.1,88.6 L437.6,88.2 L438.1,87.9 L438.7,87.7 L439.2,87.6 L439.7,87.5 L440.2,87.6 L440.8,87.7 L441.3,87.9 L441.8,88.2 L442.3,88.6 L442.9,89.0 L443.4,89.4 L443.9,89.8 L444.4,90.1 L444.9,90.3 L445.5,90.4 L446.0,90.5 L446.5,90.4 L447.0,90.3 L447.5,90.1 L448.0,89.8 L448.5,89.4 L449.1,89.0 L449.6,88.6 L450.1,88.2 L450.6,87.9 L451.1,87.7 L451.6,87.6 L452.1,87.5 L452.6,87.6 L453.2,87.7 L453.7,88.0 L454.2,88.4 L454.8,88.8 L455.3,89.2 L455.9,89.6 L456.4,90.0 L456.9,90.3 L457.5,90.4 L458.0,90.5 L458.5,90.4 L459.1,90.3 L459.6,90.0 L460.1,89.6 L460.6,89.2 L461.2,88.8 L461.7,88.4 L462.2,88.0 L462.7,87.7 L463.3,87.6 L463.8,87.5 L464.3,87.6 L464.8,87.7 L465.4,87.9 L465.9,88.2 L466.4,88.6 L466.9,89.0 L467.4,89.4 L467.9,89.8 L468.4,90.1 L469.0,90.3 L469.5,90.4 L470.0,90.5 L470.5,90.4 L471.0,90.3 L471.6,90.1 L472.1,89.8 L472.6,89.4 L473.1,89.0 L473.6,88.6 L474.1,88.2 L474.6,87.9 L475.2,87.7 L475.7,87.6 L476.2,87.5 L476.7,87.6 L477.3,87.7 L477.8,88.0 L478.3,88.4 L478.8,88.8 L479.4,89.2 L479.9,89.6 L480.4,90.0 L480.9,90.3 L481.5,90.4 L482.0,90.5 L482.5,90.4 L483.1,90.3 L483.6,90.0 L484.1,89.6 L484.7,89.2 L485.2,88.8 L485.8,88.4 L486.3,88.0 L486.8,87.7 L487.4,87.6 L487.9,87.5 L488.4,87.6 L488.9,87.7 L489.4,87.9 L489.9,88.2 L490.4,88.6 L490.9,89.0 L491.5,89.4 L492.0,89.8 L492.5,90.1 L493.0,90.3 L493.5,90.4 L494.0,90.5 L494.5,90.4 L495.0,90.3 L495.5,90.0 L496.0,89.6 L496.5,89.2 L497.1,88.8 L497.6,88.4 L498.1,88.0 L498.6,87.7 L499.1,87.6 L499.6,87.5 L500.1,87.6 L500.7,87.7 L501.2,88.0 L501.7,88.4 L502.3,88.8 L502.8,89.2 L503.4,89.6 L503.9,90.0 L504.4,90.3 L505.0,90.4 L505.5,90.5 L506.0,90.4 L506.5,90.3 L507.1,90.1 L507.6,89.8 L508.1,89.4 L508.6,89.1 L509.1,88.7 L509.6,88.4 L510.2,88.2 L510.7,88.1 L511.2,88.0 L511.8,88.1 L512.4,88.4 L512.9,88.7 L513.5,88.8" stroke="#D96414" stroke-width="2.1"/>
<path d="M80.2,178.9 L80.8,179.3 L81.3,180.0 L81.8,181.0 L82.4,182.1 L83.0,183.1 L83.5,184.1 L84.0,184.9 L84.6,185.4 L85.1,185.1 L85.6,184.8 L86.2,184.3 L86.7,183.8 L87.2,183.2 L87.7,182.6 L88.2,181.9 L88.8,181.3 L89.3,180.7 L89.8,180.2 L90.3,179.7 L90.9,179.3 L91.4,179.0 L91.9,178.9 L92.4,179.3 L92.9,179.9 L93.4,180.7 L93.9,181.7 L94.5,182.8 L95.0,183.9 L95.5,184.9 L96.0,185.7 L96.5,186.4 L97.0,186.9 L97.5,186.6 L98.0,186.1 L98.6,185.5 L99.1,184.9 L99.6,184.2 L100.1,183.4 L100.7,182.6 L101.2,181.9 L101.7,181.1 L102.2,180.5 L102.7,179.9 L103.3,179.4 L103.8,179.1 L104.3,178.9 L104.8,179.3 L105.3,179.9 L105.8,180.7 L106.3,181.7 L106.8,182.8 L107.4,183.9 L107.9,184.9 L108.4,185.7 L108.9,186.4 L109.4,186.9 L109.9,186.6 L110.4,186.1 L110.9,185.5 L111.4,184.9 L111.9,184.2 L112.4,183.4 L113.0,182.6 L113.5,181.9 L114.0,181.2 L114.5,180.6 L115.0,180.1 L115.5,179.8 L116.0,179.6 L116.5,180.1 L117.1,181.0 L117.7,182.2 L118.2,183.5 L118.8,184.8 L119.3,186.0 L119.9,187.0 L120.4,187.6 L120.9,187.3 L121.4,186.9 L122.0,186.4 L122.5,185.8 L123.0,185.1 L123.5,184.4 L124.1,183.7 L124.6,183.0 L125.1,182.3 L125.6,181.7 L126.1,181.2 L126.7,180.8 L127.2,180.5 L127.7,180.3 L128.2,180.9 L128.8,182.0 L129.3,183.4 L129.8,184.9 L130.4,186.5 L130.9,187.9 L131.5,189.1 L132.0,189.8 L132.5,189.5 L133.0,189.1 L133.5,188.7 L134.0,188.1 L134.5,187.5 L135.0,186.9 L135.5,186.2 L136.0,185.5 L136.5,184.9 L137.0,184.2 L137.5,183.6 L138.0,183.1 L138.5,182.6 L139.0,182.2 L139.5,181.9 L140.0,181.8 L140.5,182.1 L141.0,182.7 L141.6,183.5 L142.1,184.4 L142.6,185.4 L143.1,186.3 L143.6,187.2 L144.2,188.0 L144.7,188.7 L145.2,189.1 L145.7,188.8 L146.2,188.4 L146.8,188.0 L147.3,187.4 L147.8,186.9 L148.3,186.2 L148.8,185.6 L149.4,185.0 L149.9,184.3 L150.4,183.8 L150.9,183.3 L151.5,182.9 L152.0,182.6 L152.5,182.5 L153.0,182.8 L153.5,183.2 L154.0,183.9 L154.5,184.6 L155.1,185.4 L155.6,186.2 L156.1,186.9 L156.6,187.5 L157.1,188.1 L157.6,188.4 L158.1,188.0 L158.6,187.5 L159.1,186.9 L159.6,186.1 L160.1,185.3 L160.6,184.5 L161.1,183.6 L161.6,182.9 L162.1,182.2 L162.6,181.6 L163.1,181.2 L163.6,181.0 L164.1,181.3 L164.6,181.9 L165.2,182.7 L165.7,183.6 L166.2,184.6 L166.7,185.6 L167.2,186.5 L167.8,187.3 L168.3,188.0 L168.8,188.4 L169.3,188.0 L169.8,187.5 L170.3,186.9 L170.8,186.2 L171.3,185.4 L171.8,184.5 L172.3,183.7 L172.8,182.8 L173.3,182.1 L173.8,181.4 L174.3,180.9 L174.8,180.5 L175.3,180.3 L175.8,180.6 L176.3,181.0 L176.8,181.6 L177.3,182.2 L177.8,183.0 L178.3,183.8 L178.9,184.7 L179.4,185.5 L179.9,186.3 L180.4,187.0 L180.9,187.6 L181.4,188.1 L181.9,188.4 L182.5,187.8 L183.0,186.9 L183.6,185.7 L184.1,184.5 L184.7,183.2 L185.2,182.2 L185.8,181.4 L186.3,181.0 L186.8,181.2 L187.3,181.5 L187.8,181.9 L188.3,182.4 L188.8,183.0 L189.3,183.6 L189.8,184.2 L190.3,184.9 L190.8,185.6 L191.3,186.2 L191.8,186.9 L192.3,187.4 L192.8,187.9 L193.3,188.4 L193.8,188.7 L194.3,189.0 L194.8,188.8 L195.4,188.4 L195.9,188.0 L196.4,187.5 L196.9,187.0 L197.5,186.4 L198.0,185.9 L198.5,185.5 L199.0,185.1 L199.6,184.8 L200.1,184.7 L200.6,184.9 L201.1,185.3 L201.6,185.7 L202.1,186.3 L202.6,186.9 L203.1,187.6 L203.7,188.3 L204.2,188.9 L204.7,189.6 L205.2,190.1 L205.7,190.6 L206.2,191.0 L206.7,191.3 L207.2,191.0 L207.7,190.5 L208.2,189.9 L208.7,189.3 L209.2,188.6 L209.8,187.9 L210.3,187.3 L210.8,186.8 L211.3,186.4 L211.8,186.2 L212.3,186.4 L212.9,186.8 L213.4,187.4 L213.9,188.0 L214.5,188.7 L215.0,189.4 L215.6,190.1 L216.1,190.7 L216.6,191.3 L217.2,191.7 L217.7,192.0 L218.2,191.7 L218.7,191.2 L219.2,190.6 L219.7,190.0 L220.2,189.3 L220.7,188.5 L221.2,187.7 L221.7,187.0 L222.2,186.3 L222.7,185.7 L223.2,185.2 L223.7,184.9 L224.2,184.7 L224.7,185.0 L225.3,185.4 L225.8,186.0 L226.3,186.7 L226.8,187.5 L227.4,188.3 L227.9,189.1 L228.4,189.8 L228.9,190.5 L229.5,191.0 L230.0,191.3 L230.5,191.0 L231.0,190.5 L231.5,189.9 L232.0,189.3 L232.5,188.5 L233.0,187.8 L233.5,187.1 L234.0,186.4 L234.5,185.7 L235.0,185.2 L235.5,184.9 L236.0,184.7 L236.5,185.0 L237.1,185.6 L237.6,186.3 L238.1,187.2 L238.6,188.1 L239.2,189.1 L239.7,190.0 L240.2,190.9 L240.7,191.7 L241.3,192.3 L241.8,192.7 L242.3,192.2 L242.9,191.6 L243.4,190.8 L243.9,189.9 L244.4,188.9 L245.0,188.0 L245.5,187.0 L246.0,186.2 L246.5,185.5 L247.1,185.0 L247.6,184.7 L248.1,185.0 L248.7,185.5 L249.2,186.1 L249.7,186.8 L250.2,187.6 L250.8,188.5 L251.3,189.3 L251.8,190.1 L252.3,190.7 L252.9,191.2 L253.4,191.6 L253.9,191.2 L254.4,190.8 L255.0,190.2 L255.5,189.5 L256.0,188.7 L256.5,188.0 L257.1,187.2 L257.6,186.4 L258.1,185.7 L258.6,185.1 L259.2,184.6 L259.7,184.2 L260.2,184.0 L260.7,184.2 L261.2,184.6 L261.7,185.0 L262.2,185.6 L262.8,186.1 L263.3,186.7 L263.8,187.3 L264.3,187.8 L264.8,188.1 L265.3,188.4 L265.8,188.1 L266.3,187.6 L266.8,187.0 L267.3,186.4 L267.8,185.6 L268.3,184.9 L268.9,184.1 L269.4,183.3 L269.9,182.6 L270.4,182.0 L270.9,181.5 L271.4,181.2 L271.9,181.0 L272.4,181.2 L273.0,181.4 L273.5,181.7 L274.0,182.1 L274.5,182.6 L275.1,183.0 L275.6,183.5 L276.1,183.9 L276.6,184.2 L277.2,184.5 L277.7,184.7 L278.2,184.5 L278.7,184.2 L279.2,183.9 L279.7,183.5 L280.2,183.0 L280.7,182.6 L281.3,182.1 L281.8,181.7 L282.3,181.3 L282.8,180.9 L283.3,180.6 L283.8,180.4 L284.3,180.3 L284.8,180.6 L285.3,181.1 L285.8,181.8 L286.3,182.6 L286.9,183.5 L287.4,184.4 L287.9,185.2 L288.4,185.9 L288.9,186.5 L289.4,186.9 L289.9,186.5 L290.5,186.0 L291.0,185.3 L291.5,184.6 L292.1,183.8 L292.6,183.0 L293.2,182.2 L293.7,181.5 L294.2,180.9 L294.8,180.5 L295.3,180.3 L295.8,180.7 L296.3,181.3 L296.8,182.2 L297.3,183.2 L297.9,184.2 L298.4,185.3 L298.9,186.3 L299.4,187.2 L299.9,187.9 L300.4,188.4 L300.9,188.1 L301.4,187.8 L302.0,187.4 L302.5,186.9 L303.0,186.4 L303.5,185.8 L304.0,185.3 L304.6,184.7 L305.1,184.2 L305.6,183.7 L306.1,183.2 L306.7,182.9 L307.2,182.6 L307.7,182.5 L308.2,182.8 L308.7,183.2 L309.2,183.9 L309.7,184.6 L310.2,185.4 L310.8,186.2 L311.3,186.9 L311.8,187.5 L312.3,188.1 L312.8,188.4 L313.3,188.1 L313.9,187.7 L314.4,187.2 L314.9,186.6 L315.4,186.0 L316.0,185.3 L316.5,184.7 L317.0,184.1 L317.5,183.7 L318.1,183.4 L318.6,183.2 L319.1,183.5 L319.6,183.9 L320.1,184.5 L320.6,185.1 L321.1,185.9 L321.6,186.7 L322.2,187.6 L322.7,188.4 L323.2,189.2 L323.7,189.9 L324.2,190.5 L324.7,191.0 L325.2,191.3 L325.7,191.0 L326.3,190.6 L326.8,190.1 L327.3,189.5 L327.8,188.9 L328.4,188.3 L328.9,187.7 L329.4,187.1 L329.9,186.7 L330.5,186.4 L331.0,186.2 L331.5,186.3 L332.0,186.6 L332.5,186.9 L333.0,187.2 L333.5,187.6 L334.0,188.1 L334.6,188.5 L335.1,189.0 L335.6,189.4 L336.1,189.7 L336.6,190.1 L337.1,190.3 L337.6,190.5 L338.1,190.2 L338.6,189.8 L339.1,189.3 L339.7,188.7 L340.2,188.1 L340.7,187.4 L341.2,186.7 L341.7,186.0 L342.2,185.4 L342.8,184.9 L343.3,184.5 L343.8,184.2 L344.3,184.0 L344.8,184.2 L345.4,184.5 L345.9,184.9 L346.4,185.4 L347.0,185.9 L347.5,186.4 L348.1,186.9 L348.6,187.4 L349.1,187.8 L349.7,188.2 L350.2,188.4 L350.7,188.0 L351.2,187.4 L351.7,186.8 L352.2,186.0 L352.7,185.1 L353.2,184.2 L353.8,183.3 L354.3,182.4 L354.8,181.5 L355.3,180.8 L355.8,180.2 L356.3,179.8 L356.8,179.6 L357.3,179.9 L357.9,180.4 L358.4,181.1 L358.9,181.8 L359.4,182.7 L360.0,183.6 L360.5,184.5 L361.0,185.3 L361.5,186.0 L362.1,186.5 L362.6,186.9 L363.1,186.5 L363.7,185.9 L364.2,185.2 L364.7,184.4 L365.3,183.5 L365.8,182.6 L366.4,181.7 L366.9,180.9 L367.4,180.3 L368.0,179.8 L368.5,179.6 L369.0,179.9 L369.6,180.4 L370.1,181.1 L370.6,181.8 L371.1,182.7 L371.7,183.6 L372.2,184.5 L372.7,185.3 L373.2,186.0 L373.8,186.5 L374.3,186.9 L374.8,186.6 L375.4,186.2 L375.9,185.7 L376.4,185.1 L376.9,184.5 L377.5,183.9 L378.0,183.3 L378.5,182.7 L379.0,182.3 L379.6,182.0 L380.1,181.8 L380.6,182.1 L381.1,182.5 L381.6,183.0 L382.1,183.7 L382.6,184.5 L383.1,185.3 L383.7,186.1 L384.2,186.9 L384.7,187.7 L385.2,188.4 L385.7,189.0 L386.2,189.5 L386.7,189.8 L387.2,189.4 L387.8,188.9 L388.3,188.2 L388.8,187.5 L389.4,186.7 L389.9,185.9 L390.5,185.1 L391.0,184.4 L391.5,183.8 L392.1,183.4 L392.6,183.2 L393.1,183.5 L393.7,184.1 L394.2,184.8 L394.7,185.7 L395.2,186.6 L395.8,187.6 L396.3,188.6 L396.8,189.5 L397.3,190.3 L397.9,190.9 L398.4,191.3 L398.9,190.8 L399.5,190.2 L400.0,189.4 L400.5,188.5 L401.0,187.5 L401.6,186.5 L402.1,185.5 L402.6,184.7 L403.1,184.0 L403.7,183.5 L404.2,183.2 L404.7,183.7 L405.3,184.5 L405.8,185.6 L406.3,186.8 L406.8,188.2 L407.4,189.7 L407.9,191.1 L408.4,192.4 L408.9,193.5 L409.5,194.4 L410.0,195.0 L410.5,194.5 L411.0,193.8 L411.5,193.0 L412.0,192.0 L412.5,191.0 L413.0,189.9 L413.5,188.8 L414.0,187.8 L414.5,186.9 L415.0,186.2 L415.5,185.7 L416.0,185.4 L416.5,185.7 L417.0,186.2 L417.5,186.9 L418.0,187.7 L418.5,188.6 L419.0,189.6 L419.5,190.6 L420.0,191.6 L420.5,192.5 L421.0,193.3 L421.5,194.0 L422.0,194.6 L422.5,195.0 L423.0,194.8 L423.6,194.5 L424.1,194.1 L424.6,193.7 L425.2,193.3 L425.7,192.8 L426.3,192.4 L426.8,192.0 L427.3,191.7 L427.9,191.4 L428.4,191.3 L428.9,191.6 L429.4,192.1 L430.0,192.8 L430.5,193.6 L431.0,194.5 L431.5,195.3 L432.0,196.2 L432.6,196.9 L433.1,197.4 L433.6,197.8 L434.1,197.5 L434.7,197.1 L435.2,196.6 L435.7,196.0 L436.2,195.3 L436.8,194.6 L437.3,193.9 L437.8,193.2 L438.4,192.5 L438.9,191.9 L439.4,191.4 L439.9,191.0 L440.5,190.7 L441.0,190.5 L441.5,190.8 L442.1,191.2 L442.6,191.8 L443.1,192.5 L443.7,193.3 L444.2,194.1 L444.8,194.9 L445.3,195.6 L445.8,196.3 L446.4,196.8 L446.9,197.1 L447.4,196.7 L448.0,196.2 L448.5,195.5 L449.0,194.8 L449.5,194.0 L450.1,193.2 L450.6,192.4 L451.1,191.7 L451.6,191.1 L452.2,190.7 L452.7,190.5 L453.2,190.7 L453.8,191.1 L454.3,191.7 L454.8,192.3 L455.4,193.0 L455.9,193.7 L456.5,194.4 L457.0,195.1 L457.5,195.7 L458.1,196.1 L458.6,196.4 L459.1,196.2 L459.6,195.8 L460.1,195.4 L460.6,195.0 L461.1,194.5 L461.6,194.0 L462.1,193.4 L462.6,192.9 L463.1,192.4 L463.6,192.0 L464.1,191.7 L464.6,191.4 L465.1,191.3 L465.6,191.5 L466.2,191.9 L466.7,192.3 L467.2,192.9 L467.8,193.5 L468.3,194.1 L468.9,194.7 L469.4,195.3 L469.9,195.8 L470.5,196.1 L471.0,196.4 L471.5,196.1 L472.0,195.8 L472.5,195.3 L473.0,194.8 L473.5,194.2 L474.0,193.6 L474.6,193.0 L475.1,192.4 L475.6,191.8 L476.1,191.3 L476.6,190.9 L477.1,190.6 L477.6,190.5 L478.1,190.7 L478.7,191.1 L479.2,191.5 L479.7,192.1 L480.2,192.7 L480.8,193.3 L481.3,194.0 L481.8,194.5 L482.3,195.0 L482.9,195.4 L483.4,195.7 L483.9,195.4 L484.5,194.9 L485.0,194.3 L485.5,193.6 L486.0,192.9 L486.6,192.2 L487.1,191.5 L487.6,190.9 L488.1,190.4 L488.7,190.0 L489.2,189.8 L489.7,190.0 L490.3,190.3 L490.8,190.7 L491.3,191.2 L491.9,191.7 L492.4,192.2 L493.0,192.7 L493.5,193.2 L494.0,193.6 L494.6,194.0 L495.1,194.2 L495.6,193.9 L496.2,193.5 L496.7,193.0 L497.2,192.4 L497.7,191.8 L498.3,191.2 L498.8,190.6 L499.3,190.0 L499.8,189.6 L500.4,189.3 L500.9,189.1 L501.4,189.3 L501.9,189.7 L502.5,190.1 L503.0,190.7 L503.5,191.3 L504.0,192.0 L504.5,192.7 L505.1,193.4 L505.6,194.0 L506.1,194.7 L506.6,195.2 L507.2,195.7 L507.7,196.1 L508.2,196.4 L508.8,196.0 L509.3,195.3 L509.9,194.5 L510.4,193.7 L510.9,192.8 L511.5,192.1 L512.1,191.6 L512.6,191.3" stroke="#088473" stroke-width="2.1"/>
<path d="M80.2,143.9 L80.8,144.0 L81.3,144.4 L81.8,145.0 L82.4,145.7 L83.0,146.4 L83.5,147.0 L84.0,147.4 L84.6,147.5 L85.1,147.4 L85.7,147.2 L86.2,146.9 L86.7,146.4 L87.2,146.0 L87.8,145.4 L88.3,145.0 L88.8,144.5 L89.3,144.2 L89.9,144.0 L90.4,143.9 L90.9,144.0 L91.4,144.1 L91.9,144.4 L92.4,144.7 L92.9,145.1 L93.4,145.5 L94.0,145.9 L94.5,146.3 L95.0,146.7 L95.5,147.0 L96.0,147.3 L96.5,147.4 L97.0,147.5 L97.5,147.5 L98.0,147.3 L98.5,147.1 L99.0,146.9 L99.5,146.6 L100.0,146.2 L100.6,145.9 L101.1,145.5 L101.6,145.2 L102.1,145.0 L102.6,144.8 L103.1,144.6 L103.6,144.6 L104.1,144.7 L104.6,144.8 L105.1,145.1 L105.6,145.4 L106.1,145.8 L106.6,146.2 L107.1,146.6 L107.6,147.0 L108.1,147.4 L108.6,147.7 L109.1,148.0 L109.6,148.1 L110.1,148.2 L110.6,148.1 L111.2,148.0 L111.7,147.7 L112.2,147.4 L112.8,147.0 L113.3,146.5 L113.9,146.1 L114.4,145.8 L114.9,145.5 L115.5,145.4 L116.0,145.3 L116.5,145.4 L117.1,145.6 L117.6,145.9 L118.1,146.4 L118.6,146.9 L119.2,147.4 L119.7,147.9 L120.2,148.4 L120.7,148.7 L121.3,148.9 L121.8,149.0 L122.3,149.0 L122.8,148.9 L123.4,148.7 L123.9,148.5 L124.4,148.2 L124.9,148.0 L125.4,147.8 L126.0,147.6 L126.5,147.5 L127.0,147.5 L127.5,147.6 L128.0,147.7 L128.5,148.0 L129.0,148.3 L129.5,148.7 L130.0,149.1 L130.5,149.6 L131.0,150.0 L131.5,150.4 L132.0,150.7 L132.5,151.0 L133.0,151.1 L133.5,151.2 L134.0,151.1 L134.5,150.8 L135.0,150.4 L135.5,149.9 L136.1,149.3 L136.6,148.8 L137.1,148.3 L137.6,147.9 L138.1,147.6 L138.6,147.5 L139.1,147.5 L139.6,147.7 L140.2,147.8 L140.7,148.1 L141.2,148.4 L141.7,148.7 L142.2,149.0 L142.8,149.4 L143.3,149.7 L143.8,150.0 L144.3,150.3 L144.9,150.4 L145.4,150.6 L145.9,150.6 L146.4,150.5 L147.0,150.4 L147.5,150.1 L148.0,149.8 L148.6,149.4 L149.1,149.0 L149.7,148.6 L150.2,148.3 L150.7,148.0 L151.3,147.9 L151.8,147.8 L152.3,147.9 L152.9,148.1 L153.4,148.4 L153.9,148.7 L154.4,149.2 L155.0,149.6 L155.5,150.1 L156.0,150.4 L156.5,150.7 L157.1,150.9 L157.6,151.0 L158.1,150.9 L158.6,150.8 L159.1,150.5 L159.6,150.1 L160.1,149.7 L160.6,149.2 L161.1,148.8 L161.6,148.4 L162.1,148.0 L162.6,147.7 L163.1,147.6 L163.6,147.5 L164.1,147.6 L164.6,147.8 L165.2,148.1 L165.7,148.5 L166.2,149.0 L166.7,149.5 L167.2,150.0 L167.7,150.5 L168.2,150.9 L168.8,151.2 L169.3,151.4 L169.8,151.5 L170.3,151.4 L170.8,151.2 L171.4,150.9 L171.9,150.5 L172.4,150.0 L172.9,149.5 L173.4,149.0 L173.9,148.5 L174.4,148.1 L175.0,147.8 L175.5,147.6 L176.0,147.5 L176.5,147.6 L177.0,147.8 L177.6,148.1 L178.1,148.5 L178.6,149.1 L179.1,149.6 L179.6,150.1 L180.1,150.6 L180.6,151.1 L181.2,151.4 L181.7,151.6 L182.2,151.7 L182.7,151.6 L183.2,151.4 L183.8,151.1 L184.3,150.7 L184.8,150.3 L185.3,149.8 L185.9,149.2 L186.4,148.8 L186.9,148.4 L187.4,148.1 L188.0,147.9 L188.5,147.8 L189.0,147.9 L189.5,148.1 L190.0,148.4 L190.5,148.9 L191.0,149.4 L191.5,149.9 L192.0,150.4 L192.5,150.9 L193.0,151.2 L193.5,151.4 L194.0,151.5 L194.5,151.4 L195.1,151.2 L195.6,150.9 L196.2,150.5 L196.7,150.0 L197.2,149.5 L197.8,149.1 L198.3,148.8 L198.9,148.6 L199.4,148.5 L199.9,148.6 L200.4,148.7 L200.9,149.0 L201.4,149.4 L201.9,149.8 L202.4,150.3 L203.0,150.7 L203.5,151.2 L204.0,151.6 L204.5,152.0 L205.0,152.3 L205.5,152.4 L206.0,152.5 L206.5,152.4 L207.0,152.3 L207.5,152.0 L208.0,151.6 L208.5,151.2 L209.0,150.8 L209.5,150.3 L210.0,149.9 L210.5,149.5 L211.0,149.2 L211.5,149.1 L212.0,149.0 L212.5,149.1 L213.0,149.2 L213.5,149.4 L214.0,149.8 L214.5,150.1 L215.0,150.5 L215.5,150.9 L216.0,151.2 L216.5,151.6 L217.0,151.8 L217.5,151.9 L218.0,152.0 L218.5,151.9 L219.0,151.8 L219.5,151.5 L220.0,151.1 L220.5,150.7 L221.0,150.2 L221.5,149.8 L222.0,149.4 L222.5,149.0 L223.0,148.7 L223.5,148.6 L224.0,148.5 L224.5,148.6 L225.0,148.7 L225.5,149.0 L226.0,149.4 L226.5,149.8 L227.0,150.2 L227.5,150.7 L228.0,151.1 L228.5,151.5 L229.0,151.8 L229.5,151.9 L230.0,152.0 L230.5,152.0 L231.0,151.8 L231.5,151.6 L232.0,151.4 L232.5,151.0 L233.0,150.7 L233.5,150.3 L234.0,150.0 L234.5,149.6 L235.0,149.4 L235.5,149.2 L236.0,149.0 L236.5,149.0 L237.0,149.1 L237.5,149.2 L238.0,149.4 L238.5,149.8 L239.0,150.1 L239.5,150.5 L240.0,150.9 L240.5,151.2 L241.0,151.6 L241.5,151.8 L242.0,151.9 L242.5,152.0 L243.0,151.9 L243.5,151.8 L244.0,151.5 L244.5,151.1 L245.0,150.7 L245.5,150.2 L246.0,149.8 L246.5,149.4 L247.0,149.0 L247.5,148.7 L248.0,148.6 L248.5,148.5 L249.0,148.6 L249.5,148.7 L250.0,149.0 L250.5,149.4 L251.0,149.8 L251.5,150.2 L252.0,150.7 L252.5,151.1 L253.0,151.5 L253.5,151.8 L254.0,151.9 L254.5,152.0 L255.0,151.9 L255.5,151.7 L256.1,151.3 L256.6,150.8 L257.1,150.3 L257.6,149.7 L258.1,149.2 L258.6,148.7 L259.2,148.3 L259.7,148.1 L260.2,148.0 L260.7,148.1 L261.3,148.3 L261.8,148.6 L262.3,149.0 L262.8,149.5 L263.4,150.0 L263.9,150.5 L264.4,150.9 L264.9,151.2 L265.5,151.4 L266.0,151.5 L266.5,151.4 L267.1,151.2 L267.6,150.8 L268.1,150.3 L268.6,149.8 L269.2,149.2 L269.7,148.7 L270.2,148.2 L270.7,147.8 L271.3,147.6 L271.8,147.5 L272.3,147.6 L272.9,147.8 L273.4,148.1 L273.9,148.5 L274.5,149.0 L275.0,149.5 L275.6,150.0 L276.1,150.4 L276.6,150.7 L277.2,150.9 L277.7,151.0 L278.2,150.9 L278.8,150.7 L279.3,150.3 L279.8,149.8 L280.4,149.2 L280.9,148.6 L281.5,148.0 L282.0,147.5 L282.5,147.1 L283.1,146.9 L283.6,146.8 L284.1,146.9 L284.7,147.1 L285.2,147.5 L285.7,148.0 L286.3,148.6 L286.8,149.2 L287.4,149.8 L287.9,150.3 L288.4,150.7 L289.0,150.9 L289.5,151.0 L290.0,150.9 L290.6,150.7 L291.1,150.3 L291.6,149.8 L292.1,149.2 L292.7,148.6 L293.2,148.0 L293.7,147.5 L294.2,147.1 L294.8,146.9 L295.3,146.8 L295.8,146.9 L296.3,147.1 L296.9,147.5 L297.4,148.0 L297.9,148.5 L298.4,149.2 L298.9,149.8 L299.4,150.3 L299.9,150.8 L300.5,151.2 L301.0,151.4 L301.5,151.5 L302.0,151.4 L302.5,151.2 L303.1,150.8 L303.6,150.4 L304.1,149.8 L304.6,149.2 L305.1,148.7 L305.6,148.1 L306.1,147.7 L306.7,147.3 L307.2,147.1 L307.7,147.0 L308.2,147.1 L308.8,147.3 L309.3,147.7 L309.8,148.2 L310.3,148.7 L310.9,149.3 L311.4,150.0 L311.9,150.5 L312.4,151.0 L312.9,151.4 L313.5,151.6 L314.0,151.7 L314.5,151.6 L315.0,151.4 L315.5,151.0 L316.0,150.5 L316.5,150.0 L317.0,149.3 L317.5,148.7 L318.0,148.2 L318.5,147.7 L319.0,147.3 L319.5,147.1 L320.0,147.0 L320.5,147.1 L321.0,147.3 L321.5,147.7 L322.0,148.2 L322.5,148.8 L323.0,149.4 L323.5,150.1 L324.0,150.7 L324.5,151.2 L325.0,151.6 L325.5,151.8 L326.0,151.9 L326.5,151.8 L327.1,151.6 L327.6,151.1 L328.1,150.6 L328.6,150.0 L329.2,149.4 L329.7,148.8 L330.2,148.3 L330.7,147.8 L331.3,147.6 L331.8,147.5 L332.3,147.6 L332.8,147.8 L333.3,148.1 L333.9,148.5 L334.4,149.0 L334.9,149.5 L335.4,150.0 L335.9,150.5 L336.4,151.0 L337.0,151.4 L337.5,151.7 L338.0,151.9 L338.5,152.0 L339.0,151.9 L339.6,151.7 L340.1,151.4 L340.6,151.0 L341.2,150.5 L341.7,150.0 L342.2,149.5 L342.8,149.0 L343.3,148.6 L343.8,148.3 L344.4,148.1 L344.9,148.0 L345.4,148.1 L345.9,148.3 L346.4,148.7 L346.9,149.2 L347.4,149.7 L347.9,150.3 L348.5,150.9 L349.0,151.4 L349.5,151.9 L350.0,152.3 L350.5,152.5 L351.0,152.6 L351.5,152.5 L352.1,152.4 L352.6,152.1 L353.1,151.8 L353.6,151.4 L354.2,150.9 L354.7,150.5 L355.2,150.2 L355.7,149.9 L356.3,149.8 L356.8,149.7 L357.3,149.8 L357.9,150.0 L358.4,150.4 L358.9,151.0 L359.4,151.5 L360.0,152.2 L360.5,152.7 L361.0,153.3 L361.5,153.7 L362.1,153.9 L362.6,154.0 L363.1,153.9 L363.7,153.8 L364.2,153.5 L364.7,153.2 L365.3,152.8 L365.8,152.4 L366.4,152.0 L366.9,151.7 L367.4,151.4 L368.0,151.3 L368.5,151.2 L369.0,151.3 L369.5,151.4 L370.0,151.7 L370.5,152.0 L371.0,152.4 L371.5,152.8 L372.0,153.2 L372.5,153.6 L373.0,154.0 L373.5,154.3 L374.0,154.6 L374.5,154.7 L375.0,154.8 L375.5,154.8 L376.1,154.6 L376.6,154.4 L377.1,154.2 L377.7,153.9 L378.2,153.5 L378.8,153.2 L379.3,153.0 L379.8,152.8 L380.4,152.6 L380.9,152.6 L381.4,152.7 L382.0,152.9 L382.5,153.2 L383.0,153.7 L383.5,154.2 L384.1,154.7 L384.6,155.2 L385.1,155.7 L385.6,156.0 L386.2,156.2 L386.7,156.3 L387.2,156.2 L387.7,156.0 L388.2,155.7 L388.7,155.3 L389.2,154.9 L389.8,154.4 L390.3,154.0 L390.8,153.7 L391.3,153.5 L391.8,153.4 L392.3,153.5 L392.8,153.6 L393.3,153.9 L393.8,154.2 L394.3,154.6 L394.8,155.0 L395.4,155.4 L395.9,155.8 L396.4,156.2 L396.9,156.5 L397.4,156.8 L397.9,156.9 L398.4,157.0 L398.9,156.9 L399.4,156.7 L399.9,156.4 L400.4,156.0 L400.9,155.6 L401.5,155.1 L402.0,154.7 L402.5,154.4 L403.0,154.2 L403.5,154.1 L404.0,154.1 L404.5,154.3 L405.1,154.5 L405.6,154.8 L406.1,155.1 L406.6,155.5 L407.1,155.9 L407.7,156.3 L408.2,156.7 L408.7,157.0 L409.2,157.3 L409.8,157.5 L410.3,157.7 L410.8,157.7 L411.3,157.6 L411.8,157.4 L412.3,157.1 L412.8,156.7 L413.4,156.2 L413.9,155.8 L414.4,155.4 L414.9,155.1 L415.4,154.9 L415.9,154.8 L416.4,154.9 L416.9,155.1 L417.5,155.4 L418.0,155.8 L418.5,156.2 L419.0,156.8 L419.5,157.3 L420.1,157.9 L420.6,158.5 L421.1,158.9 L421.6,159.3 L422.2,159.6 L422.7,159.8 L423.2,159.9 L423.8,159.8 L424.3,159.6 L424.9,159.2 L425.4,158.8 L425.9,158.4 L426.5,158.0 L427.1,157.8 L427.6,157.7 L428.1,157.8 L428.6,157.9 L429.1,158.2 L429.6,158.5 L430.1,158.9 L430.6,159.3 L431.2,159.8 L431.7,160.2 L432.2,160.6 L432.7,160.9 L433.2,161.2 L433.7,161.3 L434.2,161.4 L434.7,161.3 L435.3,161.0 L435.8,160.6 L436.3,160.1 L436.9,159.6 L437.4,159.0 L437.9,158.5 L438.4,158.1 L439.0,157.8 L439.5,157.7 L440.0,157.8 L440.5,158.0 L441.0,158.3 L441.5,158.7 L442.0,159.1 L442.5,159.6 L443.0,160.2 L443.5,160.7 L444.0,161.1 L444.5,161.5 L445.0,161.8 L445.5,162.0 L446.0,162.1 L446.5,162.0 L447.0,161.9 L447.5,161.6 L448.0,161.2 L448.5,160.8 L449.0,160.3 L449.5,159.8 L450.0,159.4 L450.5,159.0 L451.0,158.7 L451.5,158.6 L452.0,158.5 L452.5,158.6 L453.0,158.7 L453.6,159.0 L454.1,159.3 L454.6,159.7 L455.1,160.2 L455.6,160.6 L456.1,160.9 L456.7,161.2 L457.2,161.3 L457.7,161.4 L458.2,161.4 L458.8,161.3 L459.3,161.2 L459.8,161.0 L460.4,160.8 L460.9,160.6 L461.5,160.4 L462.0,160.2 L462.5,160.1 L463.1,160.0 L463.6,160.0 L464.1,160.0 L464.7,160.2 L465.2,160.4 L465.7,160.7 L466.3,161.0 L466.8,161.4 L467.3,161.8 L467.9,162.1 L468.4,162.4 L468.9,162.6 L469.5,162.8 L470.0,162.8 L470.5,162.8 L471.0,162.7 L471.5,162.5 L472.1,162.3 L472.6,162.1 L473.1,161.9 L473.6,161.6 L474.1,161.4 L474.6,161.2 L475.2,161.0 L475.7,160.8 L476.2,160.7 L476.7,160.7 L477.2,160.8 L477.8,161.1 L478.3,161.6 L478.9,162.1 L479.4,162.7 L479.9,163.2 L480.5,163.5 L481.0,163.6 L481.5,163.5 L482.1,163.4 L482.6,163.1 L483.1,162.8 L483.6,162.4 L484.2,161.9 L484.7,161.4 L485.2,160.9 L485.8,160.4 L486.3,160.0 L486.8,159.7 L487.3,159.4 L487.9,159.3 L488.4,159.2 L488.9,159.3 L489.5,159.5 L490.1,159.9 L490.6,160.3 L491.1,160.7 L491.7,161.1 L492.2,161.3 L492.8,161.4 L493.3,161.4 L493.8,161.3 L494.3,161.1 L494.9,160.9 L495.4,160.6 L495.9,160.3 L496.4,160.0 L496.9,159.6 L497.4,159.3 L497.9,159.0 L498.5,158.8 L499.0,158.6 L499.5,158.5 L500.0,158.5 L500.5,158.5 L501.0,158.7 L501.5,158.9 L502.0,159.2 L502.5,159.6 L503.0,159.9 L503.5,160.3 L504.0,160.7 L504.5,161.0 L505.0,161.2 L505.5,161.4 L506.0,161.4 L506.5,161.4 L507.0,161.2 L507.5,161.0 L508.1,160.7 L508.6,160.4 L509.1,160.0 L509.6,159.6 L510.1,159.1 L510.6,158.7 L511.1,158.4 L511.7,158.1 L512.2,157.9 L512.7,157.7 L513.2,157.7" stroke="#FBB07A" stroke-width="2.1"/>
<path d="M80.5,214.3 L81.0,214.5 L81.6,215.1 L82.1,215.9 L82.7,216.8 L83.2,217.8 L83.8,218.6 L84.3,219.2 L84.9,219.4 L85.4,219.4 L85.9,219.2 L86.4,218.8 L86.9,218.3 L87.4,217.8 L87.9,217.1 L88.5,216.4 L89.0,215.8 L89.5,215.2 L90.0,214.7 L90.5,214.3 L91.0,214.1 L91.5,214.0 L92.0,214.1 L92.5,214.4 L93.0,214.8 L93.5,215.3 L94.0,215.9 L94.5,216.6 L95.0,217.3 L95.5,218.0 L96.0,218.6 L96.5,219.1 L97.0,219.5 L97.5,219.7 L98.0,219.8 L98.5,219.7 L99.1,219.4 L99.6,219.0 L100.1,218.4 L100.7,217.8 L101.2,217.1 L101.8,216.4 L102.3,215.8 L102.8,215.3 L103.4,215.0 L103.9,214.9 L104.4,215.0 L105.0,215.2 L105.5,215.7 L106.0,216.2 L106.5,216.9 L107.1,217.6 L107.6,218.2 L108.1,218.7 L108.6,219.2 L109.2,219.4 L109.7,219.5 L110.2,219.4 L110.7,219.2 L111.2,218.9 L111.7,218.4 L112.2,217.9 L112.7,217.4 L113.3,217.0 L113.8,216.5 L114.3,216.1 L114.8,215.8 L115.3,215.6 L115.8,215.5 L116.3,215.5 L116.8,215.7 L117.4,216.2 L117.9,216.8 L118.4,217.6 L118.9,218.5 L119.5,219.4 L120.0,220.3 L120.5,221.1 L121.0,221.7 L121.6,222.1 L122.1,222.3 L122.6,222.3 L123.2,222.1 L123.7,221.7 L124.2,221.2 L124.8,220.6 L125.3,220.0 L125.9,219.5 L126.4,219.0 L126.9,218.6 L127.5,218.4 L128.0,218.3 L128.5,218.5 L129.1,218.9 L129.6,219.5 L130.2,220.2 L130.7,221.1 L131.2,222.0 L131.8,222.9 L132.3,223.7 L132.9,224.4 L133.4,225.0 L134.0,225.0 L134.5,224.9 L135.0,224.5 L135.6,224.1 L136.1,223.5 L136.6,222.8 L137.1,222.0 L137.7,221.2 L138.2,220.4 L138.7,219.7 L139.2,219.1 L139.8,218.6 L140.3,218.3 L140.8,218.4 L141.3,218.8 L141.8,219.3 L142.3,219.9 L142.8,220.6 L143.3,221.4 L143.8,222.1 L144.3,222.8 L144.8,223.5 L145.3,224.0 L145.8,224.3 L146.3,224.4 L146.8,224.2 L147.4,223.7 L147.9,223.2 L148.4,222.5 L148.9,221.7 L149.5,220.9 L150.0,220.1 L150.5,219.4 L151.0,218.8 L151.6,218.4 L152.1,218.2 L152.6,218.2 L153.1,218.4 L153.6,218.8 L154.1,219.4 L154.6,220.0 L155.1,220.6 L155.6,221.3 L156.1,222.0 L156.6,222.6 L157.1,223.1 L157.6,223.5 L158.1,223.8 L158.6,223.8 L159.1,223.6 L159.6,223.1 L160.2,222.5 L160.7,221.7 L161.2,220.8 L161.7,219.9 L162.2,219.1 L162.7,218.3 L163.3,217.6 L163.8,217.2 L164.3,216.9 L164.8,217.0 L165.3,217.3 L165.8,217.9 L166.3,218.7 L166.8,219.6 L167.3,220.6 L167.8,221.5 L168.3,222.3 L168.8,223.0 L169.3,223.4 L169.8,223.6 L170.3,223.4 L170.9,223.0 L171.4,222.4 L171.9,221.6 L172.4,220.7 L173.0,219.8 L173.5,218.8 L174.0,218.0 L174.5,217.4 L175.1,217.0 L175.6,216.8 L176.1,216.9 L176.6,217.2 L177.1,217.7 L177.6,218.3 L178.1,219.1 L178.6,220.0 L179.2,220.8 L179.7,221.7 L180.2,222.5 L180.7,223.1 L181.2,223.6 L181.7,223.9 L182.2,224.0 L182.7,223.8 L183.3,223.4 L183.8,222.8 L184.3,222.0 L184.8,221.1 L185.4,220.1 L185.9,219.2 L186.4,218.4 L186.9,217.8 L187.5,217.4 L188.0,217.3 L188.5,217.3 L189.0,217.5 L189.5,217.8 L190.0,218.3 L190.5,218.7 L191.0,219.3 L191.6,219.8 L192.1,220.3 L192.6,220.8 L193.1,221.2 L193.6,221.5 L194.1,221.7 L194.6,221.7 L195.1,221.6 L195.6,221.4 L196.1,221.1 L196.6,220.8 L197.2,220.4 L197.7,219.9 L198.2,219.6 L198.7,219.3 L199.2,219.2 L199.7,219.3 L200.2,219.5 L200.7,219.8 L201.3,220.3 L201.8,220.8 L202.3,221.4 L202.8,222.1 L203.4,222.8 L203.9,223.3 L204.4,223.9 L204.9,224.4 L205.4,224.8 L206.0,225.1 L206.5,225.3 L207.0,225.4 L207.5,225.3 L208.0,225.0 L208.5,224.5 L209.0,223.9 L209.6,223.2 L210.1,222.5 L210.6,221.9 L211.1,221.4 L211.6,221.1 L212.1,221.0 L212.6,221.1 L213.1,221.4 L213.6,221.8 L214.1,222.3 L214.6,223.0 L215.1,223.7 L215.7,224.4 L216.2,225.1 L216.7,225.7 L217.2,226.2 L217.7,226.6 L218.2,226.8 L218.7,226.9 L219.2,226.8 L219.8,226.5 L220.3,226.0 L220.8,225.3 L221.3,224.5 L221.9,223.7 L222.4,222.9 L222.9,222.2 L223.4,221.7 L224.0,221.4 L224.5,221.3 L225.0,221.4 L225.5,221.6 L226.0,222.0 L226.5,222.5 L227.0,223.1 L227.5,223.8 L228.1,224.4 L228.6,225.1 L229.1,225.7 L229.6,226.2 L230.1,226.6 L230.6,226.8 L231.1,226.9 L231.6,226.8 L232.2,226.5 L232.7,226.0 L233.2,225.3 L233.7,224.5 L234.3,223.7 L234.8,222.9 L235.3,222.2 L235.8,221.7 L236.4,221.4 L236.9,221.3 L237.4,221.4 L237.9,221.6 L238.4,222.0 L238.9,222.5 L239.4,223.1 L239.9,223.8 L240.5,224.4 L241.0,225.1 L241.5,225.7 L242.0,226.2 L242.5,226.6 L243.0,226.8 L243.5,226.8 L244.0,226.7 L244.6,226.4 L245.1,225.9 L245.6,225.3 L246.1,224.6 L246.7,223.9 L247.2,223.2 L247.7,222.6 L248.2,222.2 L248.8,221.8 L249.3,221.7 L249.8,221.8 L250.3,222.1 L250.8,222.5 L251.3,223.0 L251.8,223.6 L252.3,224.3 L252.8,224.9 L253.3,225.4 L253.8,225.9 L254.3,226.1 L254.8,226.2 L255.3,226.0 L255.8,225.6 L256.3,225.0 L256.8,224.2 L257.4,223.3 L257.9,222.4 L258.4,221.6 L258.9,221.0 L259.4,220.5 L259.9,220.4 L260.4,220.4 L261.0,220.6 L261.5,220.8 L262.0,221.2 L262.6,221.6 L263.1,222.1 L263.6,222.6 L264.2,223.0 L264.7,223.4 L265.2,223.7 L265.8,223.9 L266.3,223.9 L266.8,223.7 L267.4,223.2 L267.9,222.5 L268.4,221.7 L269.0,220.7 L269.5,219.7 L270.1,218.7 L270.6,217.8 L271.1,217.2 L271.7,216.7 L272.2,216.5 L272.7,216.5 L273.3,216.5 L273.8,216.7 L274.3,216.8 L274.8,217.1 L275.4,217.3 L275.9,217.5 L276.4,217.6 L276.9,217.7 L277.5,217.8 L278.0,217.9 L278.5,217.9 L279.0,217.8 L279.5,217.4 L280.0,217.0 L280.5,216.4 L281.0,215.8 L281.6,215.2 L282.1,214.6 L282.6,214.0 L283.1,213.5 L283.6,213.2 L284.1,213.0" stroke="#000000" stroke-width="2.1" stroke-dasharray="12.94 5.21" stroke-dashoffset="0.00"/>
<path d="M284.1,213.0 L284.6,212.9 L285.1,213.1 L285.7,213.4 L286.2,214.0 L286.7,214.7 L287.2,215.5 L287.8,216.4 L288.3,217.2 L288.8,217.9 L289.3,218.5 L289.9,218.8 L290.4,219.0 L290.9,219.0 L291.5,218.7 L292.0,218.2 L292.5,217.6 L293.1,216.8 L293.6,216.1 L294.2,215.4 L294.7,214.7 L295.2,214.2 L295.8,214.0 L296.3,213.9 L296.8,214.1 L297.4,214.5 L297.9,215.2 L298.4,216.1 L298.9,217.0 L299.5,218.0 L300.0,219.0 L300.5,219.8 L301.0,220.5 L301.6,220.9 L302.1,221.1 L302.6,221.0 L303.1,220.8 L303.6,220.4 L304.1,220.0 L304.6,219.6 L305.1,219.1 L305.7,218.6 L306.2,218.1 L306.7,217.7 L307.2,217.3 L307.7,217.0 L308.2,216.7 L308.7,216.6 L309.2,216.7 L309.8,217.0 L310.3,217.5 L310.8,218.1 L311.3,218.8 L311.9,219.6 L312.4,220.3 L312.9,221.0 L313.4,221.5 L314.0,221.7 L314.5,221.8 L315.0,221.8 L315.6,221.5 L316.1,221.1 L316.6,220.5 L317.1,219.9 L317.7,219.2 L318.2,218.6 L318.7,218.0 L319.2,217.6 L319.8,217.3 L320.3,217.3 L320.8,217.4 L321.4,217.8 L321.9,218.3 L322.4,219.1 L323.0,219.9 L323.5,220.7 L324.1,221.5 L324.6,222.2 L325.1,222.8 L325.7,223.1 L326.2,223.3 L326.7,223.2 L327.2,222.9 L327.7,222.6 L328.2,222.1 L328.7,221.6 L329.2,221.0 L329.8,220.4 L330.3,219.8 L330.8,219.3 L331.3,218.9 L331.8,218.5 L332.3,218.3 L332.8,218.2 L333.3,218.3 L333.9,218.4 L334.4,218.8 L334.9,219.2 L335.4,219.7 L336.0,220.2 L336.5,220.7 L337.0,221.1 L337.5,221.5 L338.1,221.7 L338.6,221.7 L339.1,221.5 L339.6,221.0 L340.1,220.4 L340.6,219.6 L341.1,218.7 L341.6,217.8 L342.1,216.8 L342.6,215.9 L343.1,215.2 L343.6,214.5 L344.1,214.0 L344.6,213.8 L345.1,213.9 L345.7,214.2 L346.2,214.7 L346.7,215.4 L347.3,216.1 L347.8,216.9 L348.3,217.5 L348.8,218.1 L349.4,218.4 L349.9,218.4 L350.4,218.3 L350.9,217.9 L351.4,217.4 L352.0,216.7 L352.5,215.9 L353.0,214.9 L353.5,214.0 L354.0,213.0 L354.5,212.1 L355.0,211.2 L355.6,210.5 L356.1,210.0 L356.6,209.6 L357.1,209.5 L357.6,209.6 L358.1,210.0 L358.6,210.7 L359.1,211.6 L359.7,212.5 L360.2,213.5 L360.7,214.4 L361.2,215.0 L361.7,215.5 L362.2,215.7 L362.7,215.6 L363.2,215.4 L363.7,214.9 L364.2,214.4 L364.7,213.7 L365.2,212.9 L365.8,212.2 L366.3,211.4 L366.8,210.8 L367.3,210.2 L367.8,209.8 L368.3,209.5 L368.8,209.5 L369.3,209.6 L369.9,210.0 L370.4,210.5 L370.9,211.3 L371.4,212.1 L372.0,212.9 L372.5,213.7 L373.0,214.5 L373.5,215.1 L374.1,215.5 L374.6,215.7 L375.1,215.6 L375.7,215.3 L376.2,214.9 L376.7,214.2 L377.2,213.5 L377.8,212.7 L378.3,212.0 L378.8,211.4 L379.3,210.9 L379.9,210.6 L380.4,210.5 L380.9,210.7 L381.5,211.2 L382.0,211.8 L382.5,212.7 L383.1,213.6 L383.6,214.6 L384.2,215.5 L384.7,216.3 L385.2,217.0 L385.8,217.4 L386.3,217.5 L386.8,217.5 L387.4,217.2 L387.9,216.7 L388.4,216.1 L388.9,215.4 L389.5,214.6 L390.0,213.9 L390.5,213.3 L391.0,212.8 L391.6,212.5 L392.1,212.4 L392.6,212.6 L393.1,212.9 L393.6,213.4 L394.1,214.1 L394.6,214.8 L395.1,215.7 L395.7,216.5 L396.2,217.3 L396.7,218.1 L397.2,218.8 L397.7,219.3 L398.2,219.6 L398.7,219.8 L399.2,219.7 L399.8,219.4 L400.3,218.8 L400.8,218.1 L401.3,217.2 L401.9,216.3 L402.4,215.5 L402.9,214.8 L403.4,214.2 L404.0,213.9" stroke="#000000" stroke-width="2.1" stroke-dasharray="11.98 6.17" stroke-dashoffset="-0.51"/>
<path d="M404.0,213.9 L404.5,213.9 L405.0,214.2 L405.5,214.6 L406.0,215.2 L406.5,215.9 L407.0,216.6 L407.5,217.5 L408.1,218.3 L408.6,219.2 L409.1,219.9 L409.6,220.6 L410.1,221.2 L410.6,221.6 L411.1,221.5 L411.6,221.0 L412.2,220.4 L412.7,219.6 L413.2,218.7 L413.7,217.8 L414.3,216.8 L414.8,215.9 L415.3,215.0 L415.8,214.3 L416.4,214.2 L416.9,214.3 L417.4,214.5 L417.9,214.9 L418.4,215.5 L418.9,216.2 L419.4,217.0 L419.9,217.9 L420.5,218.9 L421.0,219.7 L421.5,220.6 L422.0,221.3 L422.5,221.9 L423.0,222.3 L423.5,222.5 L424.0,222.6 L424.5,222.5 L425.0,222.4 L425.5,222.2 L426.0,222.0 L426.6,221.7 L427.1,221.5 L427.6,221.3 L428.1,221.2 L428.6,221.1 L429.1,221.2 L429.6,221.4 L430.2,221.8 L430.7,222.3 L431.2,223.0 L431.8,223.7 L432.3,224.5 L432.9,225.3 L433.4,225.9 L433.9,226.5 L434.5,226.9 L435.0,227.1 L435.5,227.0 L436.1,226.8 L436.6,226.4 L437.1,225.9 L437.6,225.2 L438.2,224.5 L438.7,223.8 L439.2,223.2 L439.7,222.6 L440.2,222.2 L440.8,221.9 L441.3,221.9 L441.8,222.0 L442.4,222.3 L442.9,222.9 L443.4,223.6 L444.0,224.4 L444.5,225.2 L445.1,226.0 L445.6,226.7 L446.1,227.2 L446.7,227.4 L447.2,227.2 L447.7,226.9 L448.3,226.3 L448.8,225.5 L449.3,224.6 L449.8,223.6 L450.4,222.5 L450.9,221.5 L451.4,220.6 L451.9,219.8 L452.5,219.2 L453.0,218.9 L453.5,218.9 L454.0,219.0 L454.5,219.4 L455.0,219.8 L455.5,220.4 L456.0,221.1 L456.6,221.7 L457.1,222.4 L457.6,222.9 L458.1,223.4 L458.6,223.7 L459.1,223.9 L459.6,224.0 L460.1,224.1 L460.7,224.0 L461.2,223.7 L461.7,223.3 L462.2,222.9 L462.8,222.4 L463.3,221.9 L463.8,221.5 L464.3,221.2 L464.9,221.1 L465.4,221.2 L465.9,221.5 L466.4,221.9 L466.9,222.3 L467.4,223.0 L467.9,223.7 L468.4,224.4 L469.0,225.2 L469.5,226.0 L470.0,226.7 L470.5,227.3 L471.0,227.8 L471.5,228.2 L472.0,228.4 L472.5,228.4 L473.1,228.2 L473.6,227.8 L474.1,227.2 L474.7,226.6 L475.2,225.9 L475.8,225.2 L476.3,224.7 L476.8,224.3 L477.4,224.1 L477.9,223.9 L478.4,224.0 L479.0,224.2 L479.5,224.6 L480.0,225.2 L480.5,225.8 L481.1,226.4 L481.6,227.0 L482.1,227.6 L482.6,228.0 L483.2,228.2 L483.7,228.3 L484.2,228.1 L484.8,227.7 L485.3,227.1 L485.8,226.3 L486.3,225.5 L486.9,224.6 L487.4,223.8 L487.9,223.0 L488.4,222.4 L489.0,222.0 L489.5,221.8 L490.0,221.7 L490.5,221.8 L491.0,222.0 L491.5,222.3 L492.0,222.7 L492.5,223.2 L493.1,223.7 L493.6,224.2 L494.1,224.6 L494.6,225.0 L495.1,225.2 L495.6,225.5 L496.1,225.8 L496.6,225.8 L497.2,225.7 L497.7,225.4 L498.2,224.9 L498.7,224.4 L499.3,223.8 L499.8,223.2 L500.3,222.8 L500.8,222.4 L501.4,222.3 L501.9,222.4 L502.4,222.6 L502.9,222.7 L503.4,223.0 L503.9,223.4 L504.4,223.9 L504.9,224.4 L505.5,225.0 L506.0,225.6 L506.5,226.1 L507.0,226.5 L507.5,226.7 L508.0,226.8 L508.5,226.9 L509.1,226.8 L509.6,226.3 L510.2,225.5 L510.7,224.6 L511.2,223.7 L511.8,223.0 L512.4,222.5 L512.9,222.4" stroke="#000000" stroke-width="2.1" stroke-dasharray="12.94 5.21" stroke-dashoffset="17.25"/>
<path d="M80.6,58.5 L81.1,60.7 L81.7,63.9 L82.2,67.6 L82.3,67.8 M82.9,72.7 L83.3,75.6 L83.9,79.3 L84.4,82.5 L84.9,80.5 L85.1,79.7 M86.2,74.9 L86.5,74.0 L87.0,71.8 L87.5,69.6 L88.0,67.4 L88.5,65.4 L89.0,63.5 L89.3,62.5 M91.3,58.1 L91.6,57.8 L92.1,59.6 L92.7,62.1 L93.2,65.1 L93.8,68.4 L94.0,69.9 M94.8,74.6 L94.9,75.4 L95.4,78.7 L96.0,81.8 L96.5,84.5 L97.0,82.3 L97.2,81.5 M98.3,76.6 L98.6,75.3 L99.1,72.9 L99.6,70.5 L100.1,68.2 L100.6,66.0 L101.1,64.0 L101.2,63.8 M102.8,59.0 L103.2,58.3 L103.7,57.8 L104.3,59.6 L104.8,62.1 L105.4,65.0 L105.9,68.2 L106.0,69.1 M106.8,73.8 L107.0,75.0 L107.5,78.3 L108.1,81.3 L108.6,84.0 L109.2,81.9 L109.4,80.8 M110.6,75.6 L110.7,75.2 L111.2,72.8 L111.7,70.6 L112.2,68.3 L112.8,66.2 L113.3,64.2 L113.8,62.5 L113.8,62.3 M116.0,59.1 L116.4,60.3 L116.9,63.1 L117.5,66.5 L118.0,70.1 L118.4,72.5 M119.0,77.2 L119.1,77.8 L119.7,81.5 L120.2,85.0 L120.8,88.0 L121.3,85.6 L121.6,84.2 M122.7,78.5 L122.8,78.0 L123.3,75.5 L123.8,72.9 L124.4,70.4 L124.9,68.0 L125.4,65.8 L125.8,64.0 M128.0,59.4 L128.5,61.2 L129.1,64.2 L129.6,67.7 L130.1,71.6 L130.5,74.0 M131.3,80.0 L131.8,83.7 L132.3,87.3 L132.9,90.5 L133.4,88.0 L133.6,86.9 M134.6,81.5 L134.9,79.9 L135.5,77.1 L136.0,74.4 L136.5,71.7 L137.0,69.2 L137.4,67.4 M138.8,62.1 L139.1,61.3 L139.6,60.2 L140.1,59.7 L140.6,61.5 L141.2,64.1 L141.7,67.2 L142.3,70.6 L142.3,71.0 M143.2,76.9 L143.4,77.7 L143.9,81.1 L144.5,84.2 L145.0,87.0 L145.5,84.7 L145.7,83.8 M146.8,78.6 L147.1,77.4 L147.6,74.8 L148.1,72.3 L148.6,69.9 L149.1,67.6 L149.6,65.5 L149.7,65.4 M151.2,60.3 L151.7,59.5 L152.2,59.0 L152.7,60.8 L153.3,63.4 L153.8,66.4 L154.4,69.8 L154.5,70.7 M155.3,75.9 L155.5,76.8 L156.0,80.1 L156.6,83.2 L157.1,86.0 L157.6,83.8 L157.9,82.8 M159.0,77.6 L159.2,76.6 L159.7,74.1 L160.2,71.7 L160.7,69.4 L161.2,67.1 L161.7,65.0 L161.9,64.3 M163.7,59.4 L163.8,59.2 L164.3,58.7 L164.9,60.6 L165.4,63.2 L166.0,66.3 L166.5,69.8 L166.7,71.1 M167.5,76.2 L167.6,77.0 L168.1,80.5 L168.7,83.6 L169.2,86.5 L169.8,84.3 L170.0,83.1 M171.1,77.9 L171.3,77.1 L171.8,74.6 L172.3,72.2 L172.8,69.8 L173.4,67.5 L173.9,65.4 L174.2,64.3 M176.2,59.4 L176.4,59.1 L177.0,61.0 L177.5,63.8 L178.1,67.0 L178.6,70.6 L178.9,72.4 M179.6,77.1 L179.7,78.1 L180.3,81.7 L180.8,85.0 L181.4,88.0 L181.9,85.4 L182.1,84.1 M183.2,78.3 L183.4,77.1 L183.9,74.3 L184.4,71.5 L185.0,68.7 L185.5,66.1 L186.0,63.7 L186.0,63.6 M187.6,57.9 L188.0,57.0 L188.6,56.4 L189.1,58.4 L189.7,61.2 L190.2,64.5 L190.7,68.2 L190.9,69.3 M191.7,75.2 L191.8,75.9 L192.4,79.6 L192.9,83.0 L193.5,86.0 L194.0,83.6 L194.3,82.1 M195.4,76.5 L195.5,75.7 L196.1,73.1 L196.6,70.4 L197.1,67.8 L197.6,65.4 L198.1,63.1 L198.4,61.9 M200.4,56.5 L200.7,56.2 L201.2,58.3 L201.8,61.2 L202.3,64.7 L202.9,68.5 L203.1,70.5 M203.9,76.0 L204.0,76.5 L204.5,80.3 L205.1,83.8 L205.6,87.0 L206.1,84.5 L206.4,83.0 M207.5,77.2 L207.7,76.6 L208.2,73.9 L208.7,71.2 L209.2,68.6 L209.7,66.1 L210.2,63.8 L210.6,62.3 M212.7,56.9 L212.8,56.8 L213.3,58.9 L213.9,61.9 L214.4,65.5 L215.0,69.4 L215.3,71.7 M216.0,77.4 L216.1,77.7 L216.6,81.6 L217.2,85.2 L217.7,88.5 L218.2,86.0 L218.6,84.3 M219.7,78.4 L219.8,77.9 L220.3,75.1 L220.8,72.3 L221.3,69.7 L221.8,67.1 L222.3,64.7 L222.7,63.2 M224.9,57.6 L224.9,57.6 L225.5,59.8 L226.0,62.9 L226.6,66.5 L227.1,70.5 L227.4,72.9 M228.2,79.1 L228.7,83.0 L229.3,86.7 L229.8,90.0 L230.4,87.4 L230.6,86.1 M231.7,80.3 L231.9,79.1 L232.4,76.2 L232.9,73.4 L233.4,70.6 L234.0,68.0 L234.5,65.6 M236.0,60.0 L236.0,59.9 L236.5,58.8 L237.0,58.2 L237.6,60.2 L238.1,63.0 L238.7,66.2 L239.2,69.9 L239.4,70.9 M240.2,77.0 L240.3,77.5 L240.9,81.1 L241.4,84.5 L242.0,87.5 L242.5,85.1 L242.7,83.9 M243.8,78.4 L244.0,77.3 L244.5,74.6 L245.0,72.0 L245.6,69.4 L246.1,66.9 L246.6,64.7 L246.7,64.3 M248.3,59.0 L248.6,58.3 L249.2,57.8 L249.7,59.7 L250.3,62.5 L250.8,65.7 L251.3,69.2 L251.5,70.4 M252.4,76.1 L252.4,76.7 L253.0,80.3 L253.5,83.6 L254.1,86.5 L254.6,84.1 L254.8,83.0 M255.9,77.6 L256.1,76.5 L256.7,74.0 L257.2,71.4 L257.7,68.9 L258.2,66.5 L258.7,64.3 L258.8,63.8 M260.5,58.6 L260.8,58.1 L261.3,57.6 L261.8,59.5 L262.4,62.2 L262.9,65.4 L263.5,68.9 L263.7,70.2 M264.5,75.6 L264.6,76.3 L265.1,79.8 L265.7,83.1 L266.2,86.0 L266.7,83.6 L266.9,82.5 M268.0,77.2 L268.3,76.1 L268.8,73.5 L269.3,70.9 L269.8,68.4 L270.3,66.1 L270.8,63.8 L270.9,63.4 M272.6,58.2 L272.9,57.7 L273.4,57.2 L273.9,59.1 L274.5,61.8 L275.0,65.0 L275.6,68.5 L275.8,69.7 M276.5,74.9 L276.7,75.8 L277.2,79.3 L277.8,82.6 L278.3,85.5 L278.8,83.1 L279.1,81.8 M280.2,76.3 L280.4,75.5 L280.9,72.9 L281.4,70.3 L281.9,67.8 L282.4,65.4 L282.9,63.1 L283.2,62.0 M285.2,56.7 L285.5,56.4 L286.1,58.4 L286.6,61.3 L287.2,64.7 L287.7,68.4 L288.0,70.2 M288.7,75.8 L288.8,76.2 L289.3,80.0 L289.9,83.4 L290.4,86.5 L291.0,84.0 L291.2,82.7 M292.3,77.1 L292.5,76.1 L293.0,73.4 L293.5,70.8 L294.0,68.1 L294.6,65.7 L295.1,63.3 L295.2,62.8 M296.9,57.3 L297.1,56.9 L297.6,56.4 L298.2,58.4 L298.7,61.2 L299.3,64.5 L299.8,68.2 L300.0,69.7 M300.8,75.4 L300.9,75.9 L301.5,79.6 L302.0,83.0 L302.6,86.0 L303.1,83.6 L303.3,82.3 M304.5,76.8 L304.6,76.0 L305.1,73.4 L305.6,70.8 L306.2,68.3 L306.7,65.9 L307.2,63.6 L307.5,62.5 M309.4,57.2 L309.8,56.9 L310.3,58.9 L310.9,61.8 L311.4,65.2 L311.9,68.9 L312.2,70.7 M313.0,76.4 L313.0,76.7 L313.6,80.5 L314.1,83.9 L314.7,87.0 L315.2,84.6 L315.4,83.3 M316.5,77.8 L316.7,76.7 L317.3,74.1 L317.8,71.4 L318.3,68.8 L318.8,66.4 L319.3,64.1 L319.4,63.5 M321.2,58.2 L321.4,57.7 L321.9,57.2 L322.4,59.2 L323.0,62.0 L323.5,65.2 L324.1,68.9 L324.3,70.3 M325.2,76.8 L325.7,80.1 L326.3,83.5 L326.8,86.5 L327.3,84.1 L327.4,83.7 M328.4,78.8 L328.9,76.4 L329.4,73.8 L329.9,71.2 L330.4,68.7 L330.9,66.4 M332.1,61.5 L332.5,60.3 L333.0,58.8 L333.5,57.8 L334.0,57.3 L334.5,60.6 L335.0,65.2 M335.4,70.2 L335.5,70.8 L336.0,76.5 L336.5,81.9 L336.6,82.9" stroke="#D96414" stroke-width="2.1"/>
<path d="M337.0,86.5 L337.6,85.5 L338.1,83.0 L338.7,80.0 L339.2,77.5 L339.8,76.5 L340.3,76.6 L340.8,76.7 L341.4,77.0 L341.9,77.5 L342.4,78.0 L342.9,78.6 L343.4,79.2 L344.0,80.0 L344.5,80.7 L345.0,81.5 L345.5,82.3 L346.0,83.0 L346.6,83.8 L347.1,84.4 L347.6,85.0 L348.1,85.5 L348.6,86.0 L349.2,86.3 L349.7,86.4 L350.2,86.5 L350.7,86.4 L351.2,86.2 L351.8,85.9 L352.3,85.5 L352.8,85.0 L353.4,84.5 L353.9,84.0 L354.4,83.5 L354.9,83.1 L355.4,82.8 L356.0,82.6 L356.5,82.5 L357.0,82.6 L357.5,82.8 L358.0,83.3 L358.6,83.8 L359.1,84.4 L359.6,85.1 L360.1,85.9 L360.6,86.6 L361.1,87.2 L361.7,87.7 L362.2,88.2 L362.7,88.4 L363.2,88.5 L363.7,88.4 L364.2,88.1 L364.8,87.7 L365.3,87.2 L365.8,86.7 L366.3,86.1 L366.8,85.6 L367.4,85.2 L367.9,84.9 L368.4,84.8 L368.9,84.9 L369.4,85.0 L369.9,85.3 L370.4,85.7 L370.9,86.1 L371.4,86.6 L372.0,87.0 L372.5,87.5 L373.0,87.9 L373.5,88.3 L374.0,88.6 L374.5,88.7 L375.0,88.8 L375.5,88.7 L376.0,88.6 L376.6,88.3 L377.1,87.9 L377.6,87.5 L378.1,87.1 L378.6,86.7 L379.2,86.4 L379.7,86.3 L380.2,86.2 L380.7,86.3 L381.2,86.5 L381.7,86.8 L382.3,87.2 L382.8,87.7 L383.3,88.2 L383.8,88.8 L384.3,89.3 L384.8,89.8 L385.4,90.2 L385.9,90.5 L386.4,90.7 L386.9,90.8 L387.4,90.7 L387.9,90.5 L388.4,90.2 L388.9,89.7 L389.4,89.3 L390.0,88.7 L390.5,88.3 L391.0,87.8 L391.5,87.5 L392.0,87.3 L392.5,87.2 L393.0,87.3 L393.5,87.5 L394.0,87.9 L394.5,88.4 L395.0,89.0 L395.5,89.6 L396.0,90.2 L396.5,90.8 L397.0,91.3 L397.5,91.7 L398.0,91.9 L398.5,92.0 L399.0,91.9 L399.5,91.8 L400.0,91.6 L400.5,91.2 L401.0,90.9 L401.5,90.5 L402.0,90.0 L402.5,89.6 L403.0,89.3 L403.5,88.9 L404.0,88.7 L404.5,88.6 L405.0,88.5 L405.5,88.6 L406.0,88.8 L406.5,89.2 L407.0,89.6 L407.5,90.2 L408.0,90.8 L408.5,91.3 L409.0,91.9 L409.5,92.3 L410.0,92.7 L410.5,92.9 L411.0,93.0 L411.5,92.9 L412.0,92.7 L412.5,92.4 L413.0,92.0 L413.5,91.5 L414.1,91.0 L414.6,90.5 L415.1,90.1 L415.6,89.8 L416.1,89.6 L416.6,89.5 L417.1,89.6 L417.7,89.9 L418.2,90.3 L418.8,90.9 L419.3,91.5 L419.8,92.1 L420.4,92.7 L420.9,93.1 L421.5,93.4 L422.0,93.5 L422.5,93.5 L423.0,93.3 L423.6,93.1 L424.1,92.8 L424.6,92.4 L425.1,92.0 L425.6,91.7 L426.1,91.3 L426.6,91.0 L427.2,90.8 L427.7,90.6 L428.2,90.6 L428.7,90.7 L429.2,90.8 L429.8,91.1 L430.3,91.5 L430.8,92.0 L431.4,92.4 L431.9,92.9 L432.4,93.4 L432.9,93.8 L433.4,94.1 L434.0,94.2 L434.5,94.3 L435.0,94.2 L435.5,94.1 L436.0,93.8 L436.5,93.4 L437.0,92.9 L437.6,92.5 L438.1,92.0 L438.6,91.5 L439.1,91.1 L439.6,90.8 L440.1,90.7 L440.6,90.6 L441.1,90.7 L441.7,90.8 L442.2,91.1 L442.7,91.5 L443.3,92.0 L443.8,92.4 L444.3,92.9 L444.9,93.4 L445.4,93.8 L445.9,94.1 L446.5,94.2 L447.0,94.3 L447.5,94.2 L448.0,94.1 L448.5,93.8 L449.0,93.4 L449.5,92.9 L450.0,92.5 L450.5,92.0 L451.0,91.5 L451.5,91.1 L452.0,90.8 L452.5,90.7 L453.0,90.6 L453.5,90.7 L454.0,90.8 L454.5,91.1 L455.0,91.5 L455.5,92.0 L456.0,92.4 L456.5,92.9 L457.0,93.4 L457.5,93.8 L458.0,94.1 L458.5,94.2 L459.0,94.3 L459.5,94.2 L460.1,94.0 L460.6,93.7 L461.1,93.2 L461.6,92.7 L462.2,92.2 L462.7,91.7 L463.2,91.2 L463.7,90.9 L464.3,90.7 L464.8,90.6 L465.3,90.7 L465.8,90.8 L466.4,91.1 L466.9,91.5 L467.4,92.0 L467.9,92.4 L468.4,92.9 L468.9,93.4 L469.4,93.8 L470.0,94.1 L470.5,94.2 L471.0,94.3 L471.5,94.2 L472.0,94.1 L472.6,93.8 L473.1,93.4 L473.6,92.9 L474.1,92.5 L474.6,92.0 L475.1,91.5 L475.6,91.1 L476.2,90.8 L476.7,90.7 L477.2,90.6 L477.7,90.7 L478.3,90.9 L478.8,91.2 L479.3,91.7 L479.8,92.2 L480.4,92.7 L480.9,93.2 L481.4,93.7 L481.9,94.0 L482.5,94.2 L483.0,94.3 L483.5,94.2 L484.1,94.0 L484.6,93.7 L485.1,93.2 L485.6,92.7 L486.2,92.2 L486.7,91.7 L487.2,91.2 L487.7,90.9 L488.3,90.7 L488.8,90.6 L489.3,90.7 L489.8,90.8 L490.4,91.1 L490.9,91.5 L491.4,92.0 L491.9,92.4 L492.4,92.9 L492.9,93.4 L493.4,93.8 L494.0,94.1 L494.5,94.2 L495.0,94.3 L495.5,94.2 L496.1,93.8 L496.6,93.2 L497.2,92.5 L497.7,91.7 L498.2,90.8 L498.8,90.1 L499.3,89.5 L499.9,89.1 L500.4,89.0 L500.9,89.1 L501.5,89.3 L502.0,89.6 L502.5,90.0 L503.1,90.5 L503.6,91.0 L504.2,91.5 L504.7,91.9 L505.2,92.2 L505.8,92.4 L506.3,92.5 L506.8,92.4 L507.4,92.1 L507.9,91.7 L508.4,91.1 L509.0,90.5 L509.5,89.9 L510.0,89.3 L510.5,88.9 L511.1,88.6 L511.6,88.5 L512.2,88.6 L512.9,88.9 L513.5,89.0" stroke="#D96414" stroke-width="2.1" stroke-dasharray="10.5 4.6" stroke-dashoffset="10"/>
<path d="M80.9,179.9 L81.5,180.3 L82.0,181.0 L82.5,182.0 L83.1,183.1 L83.7,184.1 L84.2,185.1 L84.8,185.9 L85.3,186.4 L85.8,186.1 L86.3,185.8 L86.9,185.3 L87.4,184.8 L87.9,184.2 L88.4,183.6 L89.0,182.9 L89.5,182.3 L90.0,181.7 L90.5,181.2 L91.0,180.7 L91.6,180.3 L92.1,180.0 L92.6,179.9 L93.8,180.3 L94.3,180.9 L94.8,181.7 L95.3,182.7 L95.9,183.8 L96.4,184.9 L96.9,185.9 L97.4,186.7 L97.9,187.4 L98.4,187.9 L98.9,187.6 L99.4,187.1 L100.0,186.5 L100.5,185.9 L101.0,185.2 L101.5,184.4 L102.1,183.6 L102.6,182.9 L103.1,182.1 L103.6,181.5 L104.1,180.9 L104.7,180.4 L105.2,180.1 L105.7,179.9 L106.2,180.3 L106.7,180.9 L107.2,181.7 L107.7,182.7 L108.2,183.8 L108.8,184.9 L109.3,185.9 L109.8,186.7 L110.3,187.4 L110.8,187.9 L111.3,187.6 L111.8,187.1 L112.3,186.5 L112.8,185.9 L113.3,185.2 L113.8,184.4 L114.4,183.6 L114.9,182.9 L115.4,182.2 L115.9,181.6 L116.4,181.1 L116.9,180.8 L117.4,180.6 L118.0,181.1 L118.5,182.0 L119.1,183.2 L119.6,184.5 L120.2,185.8 L120.7,187.0 L121.3,188.0 L121.8,188.6 L122.3,188.3 L122.8,187.9 L123.4,187.4 L123.9,186.8 L124.4,186.1 L124.9,185.4 L125.5,184.7 L126.0,184.0 L126.5,183.3 L127.0,182.7 L127.5,182.2 L128.1,181.8 L128.6,181.5 L129.1,181.3 L129.6,181.9 L130.2,183.0 L130.7,184.4 L131.2,185.9 L131.8,187.5 L132.3,188.9 L132.9,190.1 L133.4,190.8 L133.9,190.5 L134.4,190.1 L134.9,189.7 L135.4,189.1 L135.9,188.5 L136.4,187.9 L136.9,187.2 L137.4,186.5 L137.9,185.9 L138.4,185.2 L138.9,184.6 L139.4,184.1 L139.9,183.6 L140.4,183.2 L140.9,182.9 L141.4,182.8 L141.9,183.1 L142.4,183.7 L143.0,184.5 L142.8,185.4 L143.3,186.4 L143.8,187.3 L144.3,188.2 L144.9,189.0 L145.4,189.7 L145.9,190.1 L146.4,189.8 L146.9,189.4 L147.5,189.0 L148.0,188.4 L148.5,187.9 L149.0,187.2 L149.5,186.6 L150.1,186.0 L150.6,185.3 L151.1,184.8 L151.6,184.3 L152.2,183.9 L152.7,183.6 L153.2,183.5 L153.7,183.8 L154.2,184.2 L154.7,184.9 L155.2,185.6 L155.8,186.4 L156.3,187.2 L156.8,187.9 L157.3,188.5 L157.8,189.1 L158.3,189.4 L158.8,189.0 L159.3,188.5 L159.8,187.9 L160.3,187.1 L160.8,186.3 L161.3,185.5 L161.8,184.6 L162.3,183.9 L162.8,183.2 L163.3,182.6 L163.8,182.2 L164.3,182.0 L164.8,182.3 L165.3,182.9 L165.9,183.6 L166.4,184.3 L166.9,185.0 L167.4,185.7 L167.9,186.4 L168.5,187.0 L169.0,187.3 L169.5,187.5 L170.0,186.9 L170.5,186.1 L171.0,185.2 L171.5,184.3 L172.0,183.2 L172.5,182.1 L173.0,181.2 L173.5,180.3 L174.0,179.6 L174.5,178.9 L175.0,178.4 L175.5,178.0 L176.0,177.8 L176.5,178.1 L177.0,178.5 L177.5,179.1 L178.0,179.7 L178.5,180.5 L179.0,181.3 L179.6,182.2 L180.1,183.0 L180.6,183.8 L181.1,184.5 L181.6,185.1 L182.1,185.6 L182.6,185.9 L183.2,185.3 L183.7,184.4 L184.2,183.2 L184.8,182.0 L185.3,180.7 L185.9,179.7 L186.4,178.9 L187.0,178.5 L187.5,178.7 L188.0,179.0 L188.5,179.4 L189.0,179.9 L189.5,180.5 L190.0,181.1 L190.5,181.7 L191.0,182.5 L191.5,183.4 L192.0,184.3 L192.5,185.2 L193.0,186.0 L193.5,186.8 L194.0,187.4 L194.5,188.0 L195.0,188.5 L195.5,188.5 L196.1,188.4 L196.6,188.3 L197.1,188.0 L197.6,187.7 L198.2,187.2 L198.7,186.7 L199.2,186.3 L199.7,185.9 L200.3,185.6 L200.8,185.5 L201.3,185.7 L201.8,186.1 L202.3,186.5 L202.8,187.1 L203.3,187.7 L203.8,188.4 L204.4,189.1 L204.9,189.7 L205.4,190.4 L205.9,190.9 L206.4,191.4 L206.9,191.8 L207.4,192.1 L207.9,191.8 L208.4,191.3 L208.9,190.7 L209.4,190.1 L209.9,189.4 L210.5,188.7 L211.0,188.1 L211.5,187.6 L212.0,187.2 L212.5,187.0 L213.0,187.2 L213.6,187.6 L214.1,188.2 L214.6,188.8 L215.2,189.5 L215.7,190.2 L216.3,190.9 L216.8,191.5 L217.3,192.1 L217.9,192.5 L218.4,192.8 L218.9,192.5 L219.4,192.0 L219.9,191.4 L220.4,190.8 L220.9,190.1 L221.4,189.3 L221.9,188.5 L222.4,187.8 L222.9,187.1 L223.4,186.5 L223.9,186.0 L224.4,185.7 L224.9,185.5 L225.4,185.8 L226.0,186.2 L226.5,186.8 L227.0,187.5 L227.5,188.3 L228.1,189.1 L228.6,189.9 L229.1,190.6 L229.6,191.3 L230.2,191.8 L230.7,192.1 L231.2,191.8 L231.7,191.3 L232.2,190.7 L232.7,190.1 L233.2,189.3 L233.7,188.6 L234.2,187.9 L234.7,187.2 L235.2,186.5 L235.7,186.0 L236.2,185.7 L236.7,185.5 L237.2,185.8 L237.8,186.4 L238.3,187.1 L238.8,188.0 L239.3,188.9 L239.9,189.9 L240.4,190.8 L240.9,191.7 L241.4,192.5 L242.0,193.1 L242.5,193.5 L243.0,193.0 L243.6,192.4 L244.1,191.6 L244.6,190.7 L245.1,189.7 L245.7,188.8 L246.2,187.8 L246.7,187.0 L247.2,186.3 L247.8,185.8 L248.3,185.5 L248.8,185.8 L249.4,186.3 L249.9,186.9 L250.4,187.6 L250.9,188.4 L251.5,189.3 L252.0,190.1 L252.5,190.9 L253.0,191.5 L253.6,192.0 L254.1,192.4 L254.6,192.0 L255.1,191.6 L255.7,191.0 L256.2,190.3 L256.7,189.5 L257.2,188.8 L257.8,188.0 L258.3,187.2 L258.8,186.5 L259.3,185.9 L259.9,185.4 L260.4,185.0 L260.9,184.8 L261.4,185.0 L261.9,185.4 L262.4,185.8 L262.9,186.4 L263.4,186.9 L264.0,187.5 L264.5,188.1 L265.0,188.6 L265.5,188.9 L266.0,189.2 L266.5,188.9 L267.0,188.4 L267.5,187.8 L268.0,187.2 L268.5,186.4 L269.0,185.7 L269.6,184.9 L270.1,184.1 L270.6,183.4 L271.1,182.8 L271.6,182.3 L272.1,182.0 L272.6,181.8 L273.1,182.0 L273.7,182.2 L274.2,182.5 L274.7,182.9 L275.2,183.4 L275.8,183.8 L276.3,184.3 L276.8,184.7 L277.3,185.0 L277.9,185.3 L278.4,185.5 L278.9,185.3 L279.4,185.0 L279.9,184.7 L280.4,184.3 L280.9,183.8 L281.4,183.4 L282.0,182.9 L282.5,182.5 L283.0,182.1 L283.5,181.7 L284.0,181.4 L284.5,181.2 L285.0,181.1 L285.5,181.4 L286.0,181.9 L286.5,182.6 L287.0,183.4 L287.6,184.3 L288.1,185.2 L288.6,186.0 L289.1,186.7 L289.6,187.3 L290.1,187.7 L290.6,187.3 L291.2,186.8 L291.7,186.1 L292.2,185.4 L292.8,184.6 L293.3,183.8 L293.9,183.0 L294.4,182.3 L294.9,181.7 L295.5,181.3 L296.0,181.1 L296.5,181.5 L297.0,182.1 L297.5,183.0 L298.0,184.0 L298.6,185.0 L299.1,186.1 L299.6,187.1 L300.1,188.0 L300.6,188.7 L301.1,189.2 L301.6,188.9 L302.1,188.6 L302.7,188.2 L303.2,187.7 L303.7,187.2 L304.2,186.6 L304.7,186.1 L305.3,185.5 L305.8,185.0 L306.3,184.5 L306.8,184.0 L307.4,183.7 L307.9,183.4 L308.4,183.3 L308.9,183.6 L309.4,184.0 L309.9,184.7 L310.4,185.4 L310.9,186.2 L311.5,187.0 L312.0,187.7 L312.5,188.3 L313.0,188.9 L313.5,189.2 L314.0,188.9 L314.6,188.5 L315.1,188.0 L315.6,187.4 L316.1,186.8 L316.7,186.1 L317.2,185.5 L317.7,184.9 L318.2,184.5 L318.8,184.2 L319.3,184.0 L319.8,184.3 L320.3,184.7 L320.8,185.3 L321.3,185.9 L321.8,186.7 L322.3,187.5 L322.9,188.4 L323.4,189.2 L323.9,190.0 L324.4,190.7 L324.9,191.3 L325.4,191.8 L325.9,192.1 L326.4,191.8 L327.0,191.4 L327.5,190.9 L328.0,190.3 L328.5,189.7 L329.1,189.1 L329.6,188.5 L330.1,187.9 L330.6,187.5 L331.2,187.2 L331.7,187.0 L332.2,187.1 L332.7,187.4 L333.2,187.7 L333.7,188.0 L334.2,188.4 L334.7,188.9 L335.3,189.3 L335.8,189.8 L336.3,190.2 L336.8,190.5 L337.3,190.9 L337.8,191.1 L338.3,191.3 L338.8,191.0 L339.3,190.6 L339.8,190.1 L340.4,189.5 L340.9,188.9 L341.4,188.2 L341.9,187.5 L342.4,186.8 L342.9,186.2 L343.5,185.7 L344.0,185.3 L344.5,185.0 L345.0,184.8 L345.5,185.0 L346.1,185.3 L346.6,185.7 L347.1,186.2 L347.7,186.7 L348.2,187.2 L348.8,187.7 L349.3,187.8 L349.8,187.9 L350.4,187.9 L350.9,187.7 L351.4,187.0 L351.9,186.1 L352.4,185.1 L352.9,183.9 L353.4,182.7 L353.9,181.5 L354.5,180.2 L355.0,179.2 L355.5,178.3 L356.0,177.6 L356.5,177.0 L357.0,176.6 L357.5,176.4 L358.0,176.7 L358.6,177.2 L359.1,177.9 L359.6,178.6 L360.1,179.5 L360.7,180.4 L361.2,181.3 L361.7,182.1 L362.2,182.8 L362.8,183.3 L363.3,183.7 L363.8,183.3 L364.4,182.7 L364.9,182.0 L365.4,181.2 L366.0,180.3 L366.5,179.4 L367.1,178.5 L367.6,177.7 L368.1,177.1 L368.7,176.6 L369.2,176.4 L369.7,176.7 L370.3,177.2 L370.8,177.9 L371.3,178.6 L371.8,179.5 L372.4,180.4 L372.9,181.4 L373.4,182.5 L373.9,183.5 L374.5,184.3 L375.0,185.0 L375.5,185.0 L376.1,184.9 L376.6,184.7 L377.1,184.4 L377.6,184.1 L378.2,183.8 L378.7,183.5 L379.2,183.3 L379.7,183.1 L380.3,182.8 L380.8,182.6 L381.3,182.9 L381.8,183.3 L382.3,183.8 L382.8,184.5 L383.3,185.3 L383.8,186.1 L384.4,186.9 L384.9,187.7 L385.4,188.5 L385.9,189.2 L386.4,189.8 L386.9,190.3 L387.4,190.6 L387.9,190.2 L388.5,189.7 L389.0,189.0 L389.5,188.3 L390.1,187.5 L390.6,186.7 L391.2,185.9 L391.7,185.2 L392.2,184.6 L392.8,184.2 L393.3,184.0 L393.8,184.3 L394.4,184.9 L394.9,185.6 L395.4,186.5 L395.9,187.4 L396.5,188.4 L397.0,189.4 L397.5,190.3 L398.0,191.1 L398.6,191.7 L399.1,192.1 L399.6,191.6 L400.2,191.0 L400.7,190.2 L401.2,189.3 L401.7,188.3 L402.3,187.3 L402.8,186.4 L403.3,185.6 L403.8,185.0 L404.4,184.6 L404.9,184.4 L405.4,185.0 L406.0,185.9 L406.5,187.1 L407.0,188.5 L407.5,190.0 L408.1,191.5 L408.6,193.1 L409.1,194.5 L409.6,195.7 L410.2,196.7 L410.7,197.4 L411.2,197.0 L411.7,196.4 L412.2,195.7 L412.7,194.8 L413.2,193.8 L413.7,192.7 L414.2,191.6 L414.7,190.6 L415.2,189.7 L415.7,189.0 L416.2,188.5 L416.7,188.2 L417.2,188.5 L417.7,189.0 L418.2,189.7 L418.7,190.5 L419.2,191.4 L419.7,192.4 L420.2,193.4 L420.7,194.4 L421.2,195.3 L421.7,196.1 L422.2,196.8 L422.7,197.4 L423.2,197.8 L423.7,197.6 L424.3,197.3 L424.8,196.9 L425.3,196.5 L425.9,196.1 L426.4,195.6 L427.0,195.2 L427.5,194.8 L428.0,194.5 L428.6,194.2 L429.1,194.1 L429.6,194.4 L430.1,194.9 L430.7,195.6 L431.2,196.4 L431.7,197.3 L432.2,198.1 L432.7,199.0 L433.3,199.7 L433.8,200.2 L434.3,200.6 L434.8,200.3 L435.4,199.9 L435.9,199.4 L436.4,198.8 L436.9,198.1 L437.5,197.4 L438.0,196.7 L438.5,196.0 L439.1,195.3 L439.6,194.7 L440.1,194.2 L440.6,193.8 L441.2,193.5 L441.7,193.3 L442.2,193.6 L442.8,194.0 L443.3,194.6 L443.8,195.3 L444.4,196.1 L444.9,196.9 L445.5,197.7 L446.0,198.4 L446.5,199.1 L447.1,199.6 L447.6,199.9 L448.1,199.5 L448.7,199.0 L449.2,198.3 L449.7,197.6 L450.2,196.8 L450.8,196.0 L451.3,195.2 L451.8,194.5 L452.3,193.9 L452.9,193.5 L453.4,193.3 L453.9,193.5 L454.5,193.9 L455.0,194.5 L455.5,195.1 L456.1,195.8 L456.6,196.5 L457.2,197.2 L457.7,197.9 L458.2,198.5 L458.8,198.9 L459.3,199.2 L459.8,199.0 L460.3,198.6 L460.8,198.2 L461.3,197.8 L461.8,197.3 L462.3,196.8 L462.8,196.2 L463.3,195.7 L463.8,195.2 L464.3,194.8 L464.8,194.5 L465.3,194.2 L465.8,194.1 L466.3,194.3 L466.9,194.7 L467.4,195.1 L467.9,195.7 L468.5,196.3 L469.0,196.9 L469.6,197.5 L470.1,198.1 L470.6,198.6 L471.2,198.9 L471.7,199.2 L472.2,198.9 L472.7,198.6 L473.2,198.1 L473.7,197.6 L474.2,197.0 L474.7,196.4 L475.3,195.8 L475.8,195.2 L476.3,194.6 L476.8,194.1 L477.3,193.7 L477.8,193.4 L478.3,193.3 L478.8,193.5 L479.4,193.9 L479.9,194.3 L480.4,194.9 L480.9,195.5 L481.5,196.1 L482.0,196.8 L482.5,197.3 L483.0,197.8 L483.6,198.2 L484.1,198.5 L484.6,198.2 L485.2,197.6 L485.7,196.8 L486.2,196.0 L486.7,195.1 L487.3,194.2 L487.8,193.4 L488.3,192.6 L488.8,191.9 L489.4,191.4 L489.9,191.0 L490.4,191.1 L491.0,191.2 L491.5,191.4 L492.0,191.7 L492.6,192.1 L493.1,192.6 L493.7,193.1 L494.2,193.6 L494.7,194.0 L495.3,194.4 L495.8,194.6 L496.3,194.3 L496.9,193.9 L497.4,193.4 L497.9,192.8 L498.4,192.2 L499.0,191.6 L499.5,191.0 L500.0,190.4 L500.5,190.0 L501.1,189.7 L501.6,189.5 L502.1,189.7 L502.6,190.1 L503.2,190.5 L503.7,191.1 L504.2,191.7 L504.7,192.4 L505.2,193.1 L505.8,193.8 L506.3,194.4 L506.8,195.1 L507.3,195.6 L507.9,196.1 L508.4,196.5 L508.9,196.8 L509.4,196.4 L510.0,195.7 L510.6,194.9 L511.1,194.1 L511.6,193.2 L512.2,192.5 L512.8,192.0 L513.3,191.7" stroke="#088473" stroke-width="2.1" stroke-dasharray="9 4.5"/>
<path d="M81.8,144.8 L82.3,144.9 L82.9,145.3 L83.4,145.9 L84.0,146.6 L84.5,147.3 L85.1,147.9 L85.6,148.3 L86.2,148.4 L86.7,148.3 L87.3,148.1 L87.8,147.8 L88.3,147.3 L88.8,146.9 L89.4,146.3 L89.9,145.9 L90.4,145.4 L90.9,145.1 L91.5,144.9 L92.0,144.8 L92.5,144.9 L93.0,145.0 L93.5,145.3 L94.0,145.6 L94.5,146.0 L95.0,146.4 L95.6,146.8 L96.1,147.2 L96.6,147.6 L97.1,147.9 L97.6,148.2 L98.1,148.3 L98.6,148.4 L99.1,148.4 L99.6,148.2 L100.1,148.0 L100.6,147.8 L101.1,147.5 L101.6,147.1 L102.2,146.8 L102.7,146.4 L103.2,146.1 L103.7,145.9 L104.2,145.7 L104.7,145.5 L105.2,145.5 L105.7,145.6 L106.2,145.7 L106.7,146.0 L107.2,146.3 L107.7,146.7 L108.2,147.1 L108.7,147.5 L109.2,147.9 L109.7,148.3 L110.2,148.6 L110.7,148.9 L111.2,149.0 L111.7,149.1 L112.2,149.0 L112.8,148.9 L113.3,148.6 L113.8,148.3 L114.4,147.9 L114.9,147.4 L115.5,147.0 L116.0,146.7 L116.5,146.4 L117.1,146.3 L117.6,146.2 L118.1,146.3 L118.7,146.5 L119.2,146.8 L119.7,147.3 L120.2,147.8 L120.8,148.3 L121.3,148.8 L121.8,149.3 L122.3,149.6 L122.9,149.8 L123.4,149.9 L123.9,149.9 L124.4,149.8 L125.0,149.6 L125.5,149.4 L126.0,149.2 L126.5,148.9 L127.0,148.7 L127.6,148.5 L128.1,148.4 L128.6,148.4 L129.1,148.5 L129.6,148.6 L130.1,148.9 L130.6,149.2 L131.1,149.6 L131.6,150.0 L132.1,150.5 L132.6,150.9 L133.1,151.3 L133.6,151.6 L134.1,151.9 L134.6,152.0 L135.1,152.1 L135.6,152.0 L136.1,151.7 L136.6,151.3 L137.1,150.8 L137.7,150.2 L138.2,149.7 L138.7,149.2 L139.2,148.8 L139.7,148.5 L140.2,148.4 L140.7,148.4 L141.2,148.6 L140.8,148.7 L141.3,148.8 L141.8,148.9 L142.3,149.1 L142.8,149.3 L143.4,149.5 L143.9,149.7 L144.4,149.8 L144.9,149.9 L145.5,150.0 L146.0,149.9 L146.5,149.8 L147.0,149.7 L147.6,149.4 L148.1,149.1 L148.6,148.6 L149.2,148.2 L149.7,147.7 L150.3,147.2 L150.8,146.8 L151.3,146.4 L151.9,146.2 L152.4,146.0 L152.9,146.0 L153.5,146.1 L154.0,146.4 L154.5,146.7 L155.0,147.1 L155.6,147.5 L156.1,147.8 L156.6,148.1 L157.1,148.4 L157.7,148.5 L158.2,148.5 L158.7,148.4 L159.2,148.1 L159.7,147.8 L160.2,147.4 L160.7,146.9 L161.2,146.4 L161.7,145.8 L162.2,145.4 L162.7,144.9 L163.2,144.6 L163.7,144.3 L164.2,144.2 L164.7,144.2 L165.2,144.4 L165.8,144.7 L166.3,145.0 L166.8,145.4 L167.3,145.9 L167.8,146.4 L168.3,146.8 L168.8,147.1 L169.4,147.4 L169.9,147.6 L170.4,147.6 L170.9,147.4 L171.4,147.2 L172.0,146.8 L172.5,146.3 L173.0,145.8 L173.5,145.2 L174.0,144.7 L174.5,144.1 L175.0,143.7 L175.6,143.3 L176.1,143.0 L176.6,142.9 L177.1,142.9 L177.6,143.1 L178.2,143.4 L178.7,143.8 L179.2,144.3 L179.7,144.8 L180.2,145.3 L180.7,145.7 L181.2,146.1 L181.8,146.4 L182.3,146.6 L182.8,146.6 L183.3,146.5 L183.8,146.3 L184.4,146.0 L184.9,145.5 L185.4,145.0 L185.9,144.5 L186.5,143.9 L187.0,143.4 L187.5,143.0 L188.0,142.7 L188.6,142.6 L189.1,142.5 L189.6,142.7 L190.1,142.9 L190.6,143.3 L191.1,143.8 L191.6,144.3 L192.1,144.9 L192.6,145.5 L193.1,146.0 L193.6,146.3 L194.1,146.6 L194.6,146.7 L195.1,146.7 L195.7,146.5 L196.2,146.2 L196.8,145.9 L197.3,145.5 L197.8,145.1 L198.4,144.8 L198.9,144.6 L199.5,144.5 L200.0,144.5 L200.5,144.6 L201.0,144.9 L201.5,145.2 L202.0,145.7 L202.5,146.2 L203.0,146.8 L203.6,147.3 L204.1,147.9 L204.6,148.5 L205.1,149.0 L205.6,149.4 L206.1,149.8 L206.6,150.0 L207.1,150.1 L207.6,150.0 L208.1,149.9 L208.6,149.7 L209.1,149.4 L209.6,149.1 L210.1,148.8 L210.6,148.5 L211.1,148.3 L211.6,148.1 L212.1,148.1 L212.6,148.2 L213.1,148.3 L213.6,148.4 L214.1,148.6 L214.6,149.0 L215.1,149.3 L215.6,149.7 L216.1,150.1 L216.6,150.5 L217.1,150.8 L217.6,151.0 L218.1,151.2 L218.6,151.2 L219.1,151.2 L219.6,151.0 L220.1,150.7 L220.6,150.4 L221.1,149.9 L221.6,149.5 L222.1,149.0 L222.6,148.6 L223.1,148.3 L223.6,148.0 L224.1,147.8 L224.6,147.8 L225.1,147.8 L225.6,148.0 L226.1,148.3 L226.6,148.6 L227.1,149.1 L227.6,149.5 L228.1,150.0 L228.6,150.4 L229.1,150.8 L229.6,151.1 L230.1,151.2 L230.6,151.3 L231.1,151.2 L231.6,151.1 L232.1,150.9 L232.6,150.7 L233.1,150.3 L233.6,150.0 L234.1,149.6 L234.6,149.3 L235.1,149.0 L235.6,148.7 L236.1,148.5 L236.6,148.4 L237.1,148.3 L237.6,148.4 L238.1,148.5 L238.6,148.8 L239.1,149.1 L239.6,149.4 L240.1,149.8 L240.6,150.2 L241.1,150.6 L241.6,150.9 L242.1,151.1 L242.6,151.3 L243.1,151.4 L243.6,151.3 L244.1,151.1 L244.6,150.8 L245.1,150.5 L245.6,150.1 L246.1,149.6 L246.6,149.2 L247.1,148.7 L247.6,148.4 L248.1,148.1 L248.6,147.9 L249.1,147.9 L249.6,147.9 L250.1,148.1 L250.6,148.4 L251.1,148.8 L251.6,149.2 L252.1,149.6 L252.6,150.1 L253.1,150.4 L253.6,150.6 L254.1,150.8 L254.6,150.9 L255.1,150.8 L255.6,150.6 L256.1,150.2 L256.7,149.7 L257.2,149.1 L257.7,148.5 L258.2,147.8 L258.7,147.1 L259.2,146.5 L259.8,146.0 L260.3,145.6 L260.8,145.4 L261.3,145.4 L261.9,145.5 L262.4,145.7 L262.9,145.9 L263.4,146.2 L264.0,146.6 L264.5,146.9 L265.0,147.1 L265.5,147.3 L266.1,147.3 L266.6,147.2 L267.1,146.9 L267.7,146.5 L268.2,146.0 L268.7,145.3 L269.2,144.6 L269.8,143.9 L270.3,143.2 L270.8,142.6 L271.3,142.2 L271.9,142.0 L272.4,141.9 L272.9,142.0 L273.5,142.2 L274.0,142.5 L274.5,142.9 L275.1,143.4 L275.6,143.9 L276.2,144.4 L276.7,144.8 L277.2,145.1 L277.8,145.3 L278.3,145.4 L278.8,145.3 L279.4,145.1 L279.9,144.7 L280.4,144.2 L281.0,143.6 L281.5,143.0 L282.1,142.4 L282.6,141.9 L283.1,141.5 L283.7,141.3 L284.2,141.2 L284.7,141.3 L285.3,141.5 L285.8,141.9 L286.3,142.4 L286.9,143.0 L287.4,143.6 L288.0,144.2 L288.5,144.7 L289.0,145.1 L289.6,145.3 L290.1,145.4 L290.6,145.3 L291.2,145.1 L291.7,144.7 L292.2,144.2 L292.7,143.6 L293.3,143.0 L293.8,142.4 L294.3,141.9 L294.8,141.5 L295.4,141.3 L295.9,141.2 L296.4,141.3 L296.9,141.5 L297.5,141.9 L298.0,142.4 L298.5,142.9 L299.0,143.6 L299.5,144.2 L300.0,144.7 L300.6,145.2 L301.1,145.6 L301.6,145.8 L302.1,145.9 L302.6,145.8 L303.1,145.6 L303.7,145.2 L304.2,144.8 L304.7,144.2 L305.2,143.7 L305.7,143.1 L306.2,142.5 L306.8,142.1 L307.3,141.7 L307.8,141.5 L308.3,141.4 L308.8,141.5 L309.4,141.7 L309.9,142.1 L310.4,142.6 L310.9,143.1 L311.5,143.8 L312.0,144.4 L312.5,144.9 L313.0,145.4 L313.6,145.8 L314.1,146.0 L314.6,146.1 L315.1,146.0 L315.6,145.8 L316.1,145.4 L316.6,144.9 L317.1,144.4 L317.6,143.8 L318.1,143.1 L318.6,142.6 L319.1,142.1 L319.6,141.7 L320.1,141.5 L320.6,141.4 L321.1,141.5 L321.6,141.7 L322.1,142.1 L322.6,142.6 L323.1,143.2 L323.6,143.8 L324.1,144.5 L324.6,145.1 L325.1,145.6 L325.6,146.0 L326.1,146.2 L326.6,146.3 L327.1,146.2 L327.7,146.0 L328.2,145.5 L328.7,145.0 L329.2,144.4 L329.8,143.8 L330.3,143.2 L330.8,142.7 L331.3,142.2 L331.9,142.0 L332.4,141.9 L332.9,142.0 L333.4,142.2 L333.9,142.5 L334.5,142.9 L335.0,143.4 L335.5,143.9 L336.0,144.4 L336.5,144.9 L337.0,145.4 L337.6,145.8 L338.1,146.1 L338.6,146.3 L339.1,146.4 L339.6,146.3 L340.2,146.1 L340.7,145.8 L341.2,145.4 L341.8,144.9 L342.3,144.4 L342.8,143.9 L343.4,143.4 L343.9,143.0 L344.4,142.7 L345.0,142.5 L345.5,142.4 L346.0,142.5 L346.5,142.7 L347.0,143.1 L347.5,143.6 L348.0,144.1 L348.6,144.7 L349.1,145.3 L349.6,145.8 L350.1,146.3 L350.6,146.7 L351.1,146.9 L351.6,147.0 L352.1,146.9 L352.7,146.8 L353.2,146.5 L353.7,146.2 L354.2,145.8 L354.8,145.3 L355.3,144.9 L355.8,144.6 L356.3,144.3 L356.9,144.2 L357.4,144.1 L357.9,144.2 L358.5,144.4 L359.0,144.8 L359.5,145.4 L360.0,145.9 L360.6,146.6 L361.1,147.1 L361.6,147.7 L362.1,148.1 L362.7,148.3 L363.2,148.4 L363.7,148.3 L364.3,148.2 L364.8,147.9 L365.3,147.6 L365.9,147.2 L366.4,146.8 L367.0,146.4 L367.5,146.1 L368.0,145.8 L368.6,145.7 L369.1,145.6 L369.6,145.7 L370.1,145.8 L370.6,146.1 L371.1,146.4 L371.6,146.8 L372.1,147.2 L372.6,147.6 L373.1,148.1 L373.6,148.6 L374.1,149.1 L374.6,149.4 L375.1,149.7 L375.6,149.9 L376.1,149.9 L376.7,149.9 L377.2,149.8 L377.7,149.7 L378.3,149.5 L378.8,149.3 L379.4,149.1 L379.9,149.0 L380.4,148.9 L381.0,148.9 L381.5,148.9 L382.0,149.1 L382.6,149.5 L383.1,149.9 L383.6,150.5 L384.1,151.1 L384.7,151.7 L385.2,152.2 L385.7,152.7 L386.2,153.0 L386.8,153.2 L387.3,153.3 L387.8,153.2 L388.3,153.0 L388.8,152.7 L389.3,152.3 L389.9,151.9 L390.4,151.4 L390.9,151.0 L391.4,150.7 L391.9,150.5 L392.4,150.4 L392.9,150.5 L393.4,150.6 L393.9,150.9 L394.4,151.2 L394.9,151.6 L395.4,152.0 L396.0,152.4 L396.5,152.8 L397.0,153.2 L397.5,153.5 L398.0,153.8 L398.5,153.9 L399.0,154.0 L399.5,153.9 L400.0,153.7 L400.5,153.4 L401.0,153.0 L401.6,152.6 L402.1,152.1 L402.6,151.7 L403.1,151.4 L403.6,151.2 L404.1,151.1 L404.6,151.1 L405.1,151.3 L405.7,151.5 L406.2,151.8 L406.7,152.1 L407.2,152.5 L407.8,152.9 L408.3,153.3 L408.8,153.7 L409.3,154.0 L409.8,154.3 L410.4,154.5 L410.9,154.7 L411.4,154.7 L411.9,154.6 L412.4,154.4 L412.9,154.1 L413.4,153.7 L414.0,153.2 L414.5,152.8 L415.0,152.4 L415.5,152.1 L416.0,151.9 L416.5,151.8 L417.0,151.9 L417.5,152.1 L418.1,152.4 L418.6,152.8 L419.1,153.2 L419.6,153.8 L420.1,154.3 L420.7,154.9 L421.2,155.6 L421.7,156.2 L422.2,156.8 L422.8,157.2 L423.3,157.5 L423.8,157.7 L424.4,157.8 L424.9,157.7 L425.5,157.5 L426.0,157.2 L426.6,156.9 L427.1,156.7 L427.7,156.6 L428.2,156.7 L428.7,156.9 L429.2,157.2 L429.7,157.5 L430.2,158.0 L430.7,158.5 L431.2,158.9 L431.8,159.4 L432.3,159.8 L432.8,160.2 L433.3,160.5 L433.8,160.8 L434.3,160.9 L434.8,161.0 L435.3,160.9 L435.9,160.6 L436.4,160.2 L436.9,159.7 L437.5,159.2 L438.0,158.6 L438.5,158.1 L439.0,157.7 L439.6,157.4 L440.1,157.3 L440.6,157.4 L441.1,157.6 L441.6,157.9 L442.1,158.3 L442.6,158.7 L443.1,159.2 L443.6,159.8 L444.1,160.3 L444.6,160.7 L445.1,161.1 L445.6,161.4 L446.1,161.6 L446.6,161.7 L447.1,161.4 L447.6,161.0 L448.1,160.4 L448.6,159.8 L449.1,159.1 L449.6,158.4 L450.1,157.7 L450.6,157.0 L451.1,156.4 L451.6,155.8 L452.1,155.4 L452.6,155.1 L453.1,155.4 L453.6,155.8 L454.2,156.4 L454.7,157.0 L455.2,157.6 L455.7,158.3 L456.2,159.0 L456.7,159.6 L457.3,160.1 L457.8,160.5 L458.3,160.8 L458.8,161.0 L459.4,160.9 L459.9,160.8 L460.4,160.6 L461.0,160.4 L461.5,160.2 L462.1,160.0 L462.6,159.8 L463.1,159.7 L463.7,159.6 L464.2,159.6 L464.7,159.6 L465.3,159.8 L465.8,160.0 L466.3,160.3 L466.9,160.6 L467.4,161.0 L467.9,161.4 L468.5,161.7 L469.0,162.0 L469.5,162.2 L470.1,162.4 L470.6,162.4 L471.1,162.4 L471.6,162.3 L472.1,162.1 L472.7,161.9 L473.2,161.7 L473.7,161.5 L474.2,161.2 L474.7,161.0 L475.2,160.8 L475.8,160.6 L476.3,160.4 L476.8,160.3 L477.3,160.3 L477.8,160.4 L478.4,160.7 L478.9,161.2 L479.5,161.7 L480.0,162.3 L480.5,162.8 L481.1,163.1 L481.6,163.2 L482.1,163.1 L482.7,163.0 L483.2,162.7 L483.7,162.4 L484.2,162.0 L484.8,161.5 L485.3,161.0 L485.8,160.5 L486.4,160.0 L486.9,159.6 L487.4,159.3 L487.9,159.0 L488.5,158.9 L489.0,158.8 L489.6,158.9 L490.1,159.1 L490.7,159.5 L491.2,159.9 L491.8,160.3 L492.3,160.7 L492.9,160.9 L493.4,161.0 L493.9,161.0 L494.4,160.9 L494.9,160.6 L495.5,160.2 L496.0,159.7 L496.5,159.2 L497.0,158.8 L497.5,158.3 L498.0,157.8 L498.5,157.3 L499.1,156.9 L499.6,156.6 L500.1,156.3 L500.6,156.1 L501.1,156.2 L501.6,156.5 L502.1,156.8 L502.6,157.2 L503.1,157.6 L503.6,158.1 L504.1,158.5 L504.6,159.0 L505.1,159.4 L505.6,159.7 L506.1,159.9 L506.6,160.1 L507.1,160.1 L507.6,160.1 L508.1,159.9 L508.7,159.7 L509.2,159.5 L509.7,159.2 L510.2,158.9 L510.7,158.5 L511.2,158.2 L511.7,158.0 L512.3,157.8 L512.8,157.6 L513.3,157.6 L513.8,157.6" stroke="#FBB07A" stroke-width="2.1" stroke-dasharray="9 4.5"/>
</g>
<g font-family="'Liberation Sans', Arial, Helvetica, sans-serif" font-size="15.3" fill="#000" stroke="#000" stroke-width="0.15">
<line x1="566.2" x2="589.6" y1="62.0" y2="62.0" stroke="#FCE6D6" stroke-width="1.9"/>
<text x="601.8" y="67.0">Greenhouse</text>
<line x1="566.2" x2="589.6" y1="91.2" y2="91.2" stroke="#000000" stroke-width="2.2"/>
<text x="601.8" y="96.2">L.Ctrl</text>
<line x1="566.2" x2="589.6" y1="120.4" y2="120.4" stroke="#D96414" stroke-width="2.2"/>
<text x="601.8" y="125.4">L.110cm</text>
<line x1="566.2" x2="589.6" y1="149.7" y2="149.7" stroke="#088473" stroke-width="2.2"/>
<text x="601.8" y="154.7">L.030cm</text>
<line x1="566.2" x2="589.6" y1="178.9" y2="178.9" stroke="#FBB07A" stroke-width="2.2"/>
<text x="601.8" y="183.9">L.070cm</text>
<line x1="566.2" x2="589.6" y1="208.1" y2="208.1" stroke="#000000" stroke-width="2.2" stroke-dasharray="12.7 5.1"/>
<text x="601.8" y="213.1">S.Ctrl</text>
<line x1="566.2" x2="589.6" y1="237.3" y2="237.3" stroke="#D96414" stroke-width="2.2" stroke-dasharray="12.7 5.1"/>
<text x="601.8" y="242.3">S.110cm</text>
<line x1="566.2" x2="589.6" y1="266.5" y2="266.5" stroke="#088473" stroke-width="2.2" stroke-dasharray="12.7 5.1"/>
<text x="601.8" y="271.5">S.030cm</text>
<line x1="566.2" x2="589.6" y1="295.8" y2="295.8" stroke="#FBB07A" stroke-width="2.2" stroke-dasharray="12.7 5.1"/>
<text x="601.8" y="300.8">S.070cm</text>
</g>
<g font-family="'Liberation Sans', Arial, Helvetica, sans-serif" font-size="20.3" fill="#000" stroke="#000" stroke-width="0.22" text-anchor="end">
<text x="49.8" y="331.8">0</text>
<text x="49.8" y="268.3">10</text>
<text x="49.8" y="204.9">20</text>
<text x="49.8" y="141.5">30</text>
<text x="49.8" y="78.1">40</text>
<text x="49.8" y="14.6">50</text>
</g>
<g font-family="'Liberation Sans', Arial, Helvetica, sans-serif" font-size="20.6" fill="#000" stroke="#000" stroke-width="0.22" text-anchor="end">
<text transform="translate(150.7,359.2) rotate(-45)" x="0" y="0">2019 / 12 / 29</text>
<text transform="translate(235.0,359.2) rotate(-45)" x="0" y="0">2020 / 01 / 05</text>
<text transform="translate(319.4,359.2) rotate(-45)" x="0" y="0">2020 / 01 / 12</text>
<text transform="translate(403.8,359.2) rotate(-45)" x="0" y="0">2020 / 01 / 19</text>
<text transform="translate(488.1,359.2) rotate(-45)" x="0" y="0">2020 / 01 / 26</text>
</g>
<g font-family="'Liberation Sans', Arial, Helvetica, sans-serif" font-size="24.3" fill="#000" stroke="#000" stroke-width="0.3" text-anchor="middle">
<text x="297" y="472.3">Date</text>
<text transform="translate(17.7,167) rotate(-90)">Temprature °C</text>
</g>
</svg>
</body></html>
